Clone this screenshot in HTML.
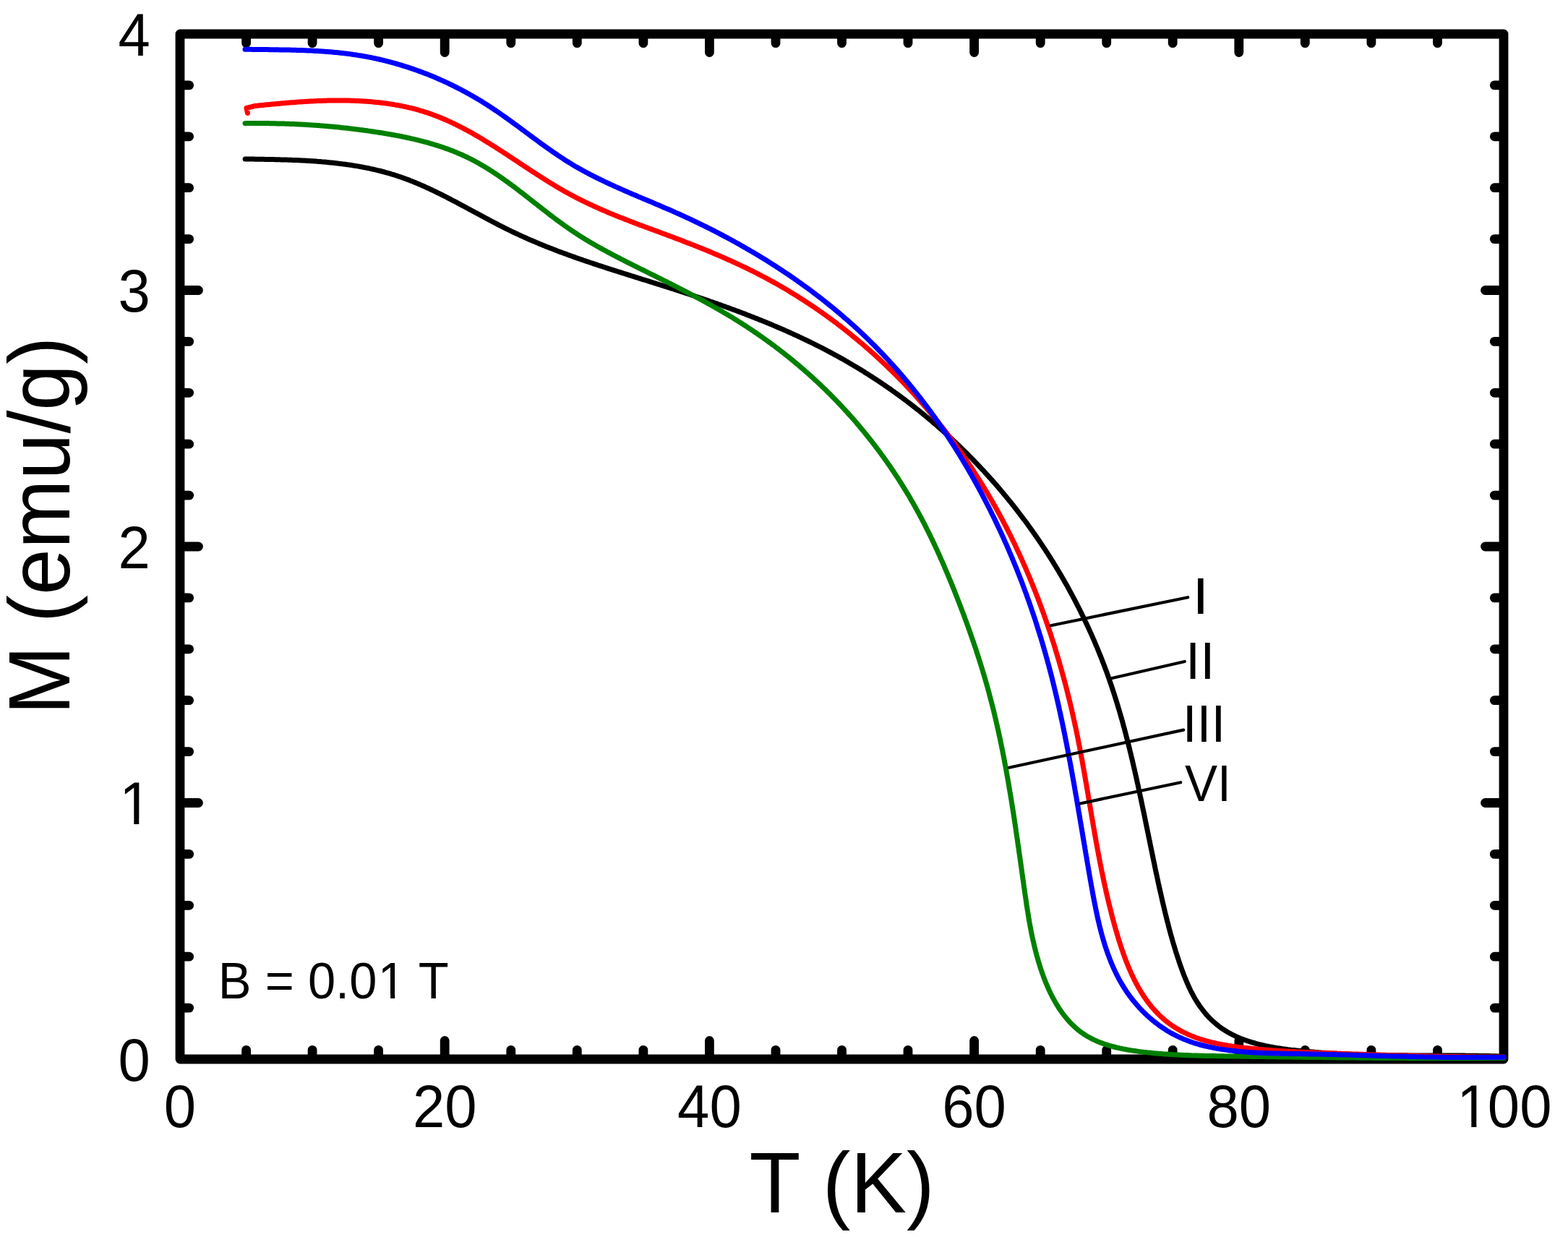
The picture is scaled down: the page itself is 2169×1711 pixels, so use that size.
<!DOCTYPE html>
<html><head><meta charset="utf-8"><title>M vs T</title>
<style>html,body{margin:0;padding:0;background:#fff;width:2169px;height:1711px;overflow:hidden}</style>
</head><body>
<svg width="2169" height="1711" viewBox="0 0 2169 1711" style="display:block">
<rect width="2169" height="1711" fill="#fff"/>
<path d="M340.6,1459.0V1452.3M340.6,53.0V59.7M432.1,1459.0V1452.3M432.1,53.0V59.7M523.6,1459.0V1452.3M523.6,53.0V59.7M615.2,1459.0V1439.5M615.2,53.0V72.5M706.8,1459.0V1452.3M706.8,53.0V59.7M798.3,1459.0V1452.3M798.3,53.0V59.7M889.9,1459.0V1452.3M889.9,53.0V59.7M981.4,1459.0V1439.5M981.4,53.0V72.5M1073.0,1459.0V1452.3M1073.0,53.0V59.7M1164.5,1459.0V1452.3M1164.5,53.0V59.7M1256.0,1459.0V1452.3M1256.0,53.0V59.7M1347.6,1459.0V1439.5M1347.6,53.0V72.5M1439.2,1459.0V1452.3M1439.2,53.0V59.7M1530.7,1459.0V1452.3M1530.7,53.0V59.7M1622.2,1459.0V1452.3M1622.2,53.0V59.7M1713.8,1459.0V1439.5M1713.8,53.0V72.5M1805.3,1459.0V1452.3M1805.3,53.0V59.7M1896.9,1459.0V1452.3M1896.9,53.0V59.7M1988.5,1459.0V1452.3M1988.5,53.0V59.7M255.0,1394.1H261.7M2074.0,1394.1H2067.3M255.0,1323.2H261.7M2074.0,1323.2H2067.3M255.0,1252.3H261.7M2074.0,1252.3H2067.3M255.0,1181.4H261.7M2074.0,1181.4H2067.3M255.0,1110.5H274.5M2074.0,1110.5H2054.5M255.0,1039.6H261.7M2074.0,1039.6H2067.3M255.0,968.7H261.7M2074.0,968.7H2067.3M255.0,897.8H261.7M2074.0,897.8H2067.3M255.0,826.9H261.7M2074.0,826.9H2067.3M255.0,756.0H274.5M2074.0,756.0H2054.5M255.0,685.1H261.7M2074.0,685.1H2067.3M255.0,614.2H261.7M2074.0,614.2H2067.3M255.0,543.3H261.7M2074.0,543.3H2067.3M255.0,472.4H261.7M2074.0,472.4H2067.3M255.0,401.5H274.5M2074.0,401.5H2054.5M255.0,330.6H261.7M2074.0,330.6H2067.3M255.0,259.7H261.7M2074.0,259.7H2067.3M255.0,188.8H261.7M2074.0,188.8H2067.3M255.0,117.9H261.7M2074.0,117.9H2067.3" stroke="#000" stroke-width="12.8" stroke-linecap="round" fill="none"/>
<rect x="249.0" y="47.0" width="1831.0" height="1418.0" fill="none" stroke="#000" stroke-width="12.8" stroke-linejoin="round"/>
<path d="M339.1,220.0 L341.0,220.0 L343.0,220.0 L345.0,220.0 L346.9,220.1 L348.9,220.1 L350.9,220.1 L352.9,220.2 L354.8,220.2 L356.8,220.2 L358.8,220.2 L360.8,220.3 L362.8,220.3 L364.8,220.3 L366.8,220.4 L368.8,220.4 L370.7,220.4 L372.7,220.5 L374.7,220.5 L376.7,220.6 L378.7,220.6 L380.7,220.7 L382.7,220.7 L384.7,220.7 L386.8,220.8 L388.8,220.9 L390.8,220.9 L392.8,221.0 L394.8,221.0 L396.8,221.1 L398.8,221.2 L400.8,221.2 L402.8,221.3 L404.8,221.4 L406.8,221.5 L408.9,221.5 L410.9,221.6 L412.9,221.7 L414.9,221.8 L416.9,221.9 L418.9,222.0 L420.9,222.1 L422.9,222.2 L425.0,222.3 L427.0,222.5 L429.0,222.6 L431.0,222.7 L433.0,222.8 L435.0,223.0 L437.0,223.1 L439.0,223.3 L441.1,223.4 L443.1,223.6 L445.1,223.8 L447.1,223.9 L449.1,224.1 L451.1,224.3 L453.1,224.5 L455.1,224.7 L457.1,224.9 L459.1,225.1 L461.1,225.3 L463.1,225.5 L465.1,225.7 L467.1,225.9 L469.1,226.2 L471.1,226.4 L473.1,226.7 L475.1,226.9 L477.1,227.2 L479.1,227.5 L481.1,227.8 L483.0,228.0 L485.0,228.3 L487.0,228.6 L489.0,229.0 L491.0,229.3 L492.9,229.6 L494.9,229.9 L496.9,230.3 L498.9,230.6 L500.8,231.0 L502.8,231.4 L504.7,231.8 L506.7,232.1 L508.7,232.5 L510.6,232.9 L512.6,233.4 L514.5,233.8 L516.5,234.2 L518.4,234.7 L520.3,235.1 L522.3,235.6 L524.2,236.0 L526.1,236.5 L528.1,237.0 L530.0,237.5 L531.9,238.0 L533.8,238.6 L535.7,239.1 L537.6,239.6 L539.6,240.2 L541.5,240.8 L543.4,241.3 L545.2,241.9 L547.1,242.5 L549.0,243.1 L550.9,243.8 L552.8,244.4 L554.7,245.0 L556.5,245.7 L558.4,246.4 L560.3,247.0 L562.1,247.7 L564.0,248.4 L565.8,249.1 L567.7,249.9 L569.5,250.6 L571.4,251.3 L573.2,252.1 L575.1,252.8 L576.9,253.6 L578.7,254.4 L580.6,255.1 L582.4,255.9 L584.2,256.7 L586.0,257.5 L587.8,258.3 L589.7,259.2 L591.5,260.0 L593.3,260.8 L595.1,261.7 L596.9,262.5 L598.7,263.4 L600.5,264.2 L602.3,265.1 L604.1,266.0 L605.9,266.9 L607.7,267.7 L609.5,268.6 L611.3,269.5 L613.1,270.4 L614.9,271.3 L616.6,272.2 L618.4,273.1 L620.2,274.1 L622.0,275.0 L623.8,275.9 L625.5,276.8 L627.3,277.8 L629.1,278.7 L630.9,279.6 L632.6,280.6 L634.4,281.5 L636.2,282.5 L638.0,283.4 L639.7,284.4 L641.5,285.3 L643.3,286.3 L645.1,287.2 L646.8,288.2 L648.6,289.1 L650.4,290.1 L652.1,291.0 L653.9,292.0 L655.7,292.9 L657.4,293.9 L659.2,294.8 L661.0,295.8 L662.8,296.8 L664.5,297.7 L666.3,298.7 L668.1,299.6 L669.8,300.6 L671.6,301.5 L673.4,302.5 L675.2,303.4 L676.9,304.3 L678.7,305.3 L680.5,306.2 L682.3,307.2 L684.1,308.1 L685.8,309.0 L687.6,309.9 L689.4,310.9 L691.2,311.8 L693.0,312.7 L694.8,313.6 L696.6,314.5 L698.3,315.4 L700.1,316.3 L701.9,317.2 L703.7,318.1 L705.5,318.9 L707.3,319.8 L709.1,320.7 L710.9,321.5 L712.7,322.4 L714.6,323.2 L716.4,324.1 L718.2,324.9 L720.0,325.8 L721.8,326.6 L723.6,327.4 L725.4,328.2 L727.3,329.0 L729.1,329.9 L730.9,330.7 L732.7,331.5 L734.6,332.2 L736.4,333.0 L738.2,333.8 L740.1,334.6 L741.9,335.4 L743.7,336.1 L745.6,336.9 L747.4,337.7 L749.3,338.4 L751.1,339.2 L753.0,339.9 L754.8,340.7 L756.6,341.4 L758.5,342.1 L760.4,342.9 L762.2,343.6 L764.1,344.3 L765.9,345.0 L767.8,345.7 L769.6,346.5 L771.5,347.2 L773.3,347.9 L775.2,348.6 L777.1,349.3 L778.9,350.0 L780.8,350.6 L782.7,351.3 L784.5,352.0 L786.4,352.7 L788.3,353.4 L790.1,354.0 L792.0,354.7 L793.9,355.4 L795.8,356.1 L797.6,356.7 L799.5,357.4 L801.4,358.0 L803.3,358.7 L805.2,359.3 L807.0,360.0 L808.9,360.6 L810.8,361.3 L812.7,361.9 L814.6,362.5 L816.5,363.2 L818.3,363.8 L820.2,364.4 L822.1,365.1 L824.0,365.7 L825.9,366.3 L827.8,367.0 L829.7,367.6 L831.6,368.2 L833.4,368.8 L835.3,369.4 L837.2,370.0 L839.1,370.7 L841.0,371.3 L842.9,371.9 L844.8,372.5 L846.7,373.1 L848.6,373.7 L850.5,374.3 L852.4,374.9 L854.3,375.5 L856.2,376.1 L858.1,376.7 L860.0,377.3 L861.9,377.9 L863.8,378.5 L865.7,379.1 L867.6,379.7 L869.5,380.3 L871.4,380.9 L873.3,381.5 L875.2,382.1 L877.1,382.7 L879.0,383.3 L880.9,383.9 L882.7,384.5 L884.6,385.1 L886.5,385.7 L888.4,386.3 L890.3,386.9 L892.2,387.4 L894.1,388.0 L896.0,388.6 L897.9,389.2 L899.8,389.8 L901.7,390.4 L903.6,391.0 L905.5,391.6 L907.4,392.2 L909.3,392.8 L911.2,393.4 L913.1,394.0 L915.0,394.6 L916.9,395.2 L918.8,395.8 L920.7,396.4 L922.6,397.0 L924.5,397.6 L926.4,398.2 L928.3,398.8 L930.2,399.4 L932.1,400.0 L934.0,400.7 L935.8,401.3 L937.7,401.9 L939.6,402.5 L941.5,403.1 L943.4,403.7 L945.3,404.3 L947.2,405.0 L949.1,405.6 L951.0,406.2 L952.8,406.8 L954.7,407.5 L956.6,408.1 L958.5,408.7 L960.4,409.3 L962.3,410.0 L964.2,410.6 L966.0,411.2 L967.9,411.9 L969.8,412.5 L971.7,413.1 L973.6,413.8 L975.4,414.4 L977.3,415.1 L979.2,415.7 L981.1,416.4 L982.9,417.0 L984.8,417.7 L986.7,418.3 L988.5,419.0 L990.4,419.6 L992.3,420.3 L994.2,421.0 L996.0,421.6 L997.9,422.3 L999.8,423.0 L1001.6,423.6 L1003.5,424.3 L1005.4,425.0 L1007.2,425.6 L1009.1,426.3 L1010.9,427.0 L1012.8,427.7 L1014.7,428.4 L1016.5,429.1 L1018.4,429.8 L1020.2,430.4 L1022.1,431.1 L1023.9,431.8 L1025.8,432.5 L1027.6,433.2 L1029.5,433.9 L1031.3,434.6 L1033.2,435.4 L1035.0,436.1 L1036.9,436.8 L1038.7,437.5 L1040.5,438.2 L1042.4,438.9 L1044.2,439.7 L1046.1,440.4 L1047.9,441.1 L1049.7,441.9 L1051.6,442.6 L1053.4,443.3 L1055.2,444.1 L1057.0,444.8 L1058.9,445.6 L1060.7,446.3 L1062.5,447.1 L1064.3,447.8 L1066.2,448.6 L1068.0,449.3 L1069.8,450.1 L1071.6,450.9 L1073.4,451.6 L1075.3,452.4 L1077.1,453.2 L1078.9,454.0 L1080.7,454.8 L1082.5,455.5 L1084.3,456.3 L1086.1,457.1 L1087.9,457.9 L1089.7,458.7 L1091.5,459.5 L1093.3,460.3 L1095.1,461.1 L1096.9,461.9 L1098.7,462.8 L1100.5,463.6 L1102.3,464.4 L1104.1,465.2 L1105.8,466.1 L1107.6,466.9 L1109.4,467.7 L1111.2,468.6 L1113.0,469.4 L1114.7,470.3 L1116.5,471.1 L1118.3,472.0 L1120.1,472.8 L1121.8,473.7 L1123.6,474.6 L1125.4,475.4 L1127.1,476.3 L1128.9,477.2 L1130.6,478.1 L1132.4,478.9 L1134.1,479.8 L1135.9,480.7 L1137.7,481.6 L1139.4,482.5 L1141.1,483.4 L1142.9,484.3 L1144.6,485.3 L1146.4,486.2 L1148.1,487.1 L1149.9,488.0 L1151.6,489.0 L1153.3,489.9 L1155.0,490.8 L1156.8,491.8 L1158.5,492.7 L1160.2,493.7 L1161.9,494.6 L1163.7,495.6 L1165.4,496.5 L1167.1,497.5 L1168.8,498.5 L1170.5,499.5 L1172.2,500.4 L1173.9,501.4 L1175.6,502.4 L1177.3,503.4 L1179.0,504.4 L1180.7,505.4 L1182.4,506.4 L1184.1,507.4 L1185.8,508.5 L1187.5,509.5 L1189.2,510.5 L1190.8,511.5 L1192.5,512.6 L1194.2,513.6 L1195.9,514.7 L1197.5,515.7 L1199.2,516.8 L1200.9,517.8 L1202.5,518.9 L1204.2,519.9 L1205.9,521.0 L1207.5,522.1 L1209.2,523.2 L1210.8,524.2 L1212.5,525.3 L1214.1,526.4 L1215.8,527.5 L1217.4,528.6 L1219.0,529.7 L1220.7,530.8 L1222.3,531.9 L1223.9,533.0 L1225.6,534.2 L1227.2,535.3 L1228.8,536.4 L1230.4,537.5 L1232.1,538.7 L1233.7,539.8 L1235.3,541.0 L1236.9,542.1 L1238.5,543.3 L1240.1,544.4 L1241.7,545.6 L1243.3,546.7 L1244.9,547.9 L1246.5,549.1 L1248.1,550.3 L1249.7,551.4 L1251.2,552.6 L1252.8,553.8 L1254.4,555.0 L1256.0,556.2 L1257.6,557.4 L1259.1,558.6 L1260.7,559.8 L1262.3,561.0 L1263.8,562.2 L1265.4,563.5 L1266.9,564.7 L1268.5,565.9 L1270.0,567.1 L1271.6,568.4 L1273.1,569.6 L1274.7,570.9 L1276.2,572.1 L1277.7,573.4 L1279.3,574.6 L1280.8,575.9 L1282.3,577.1 L1283.8,578.4 L1285.4,579.7 L1286.9,580.9 L1288.4,582.2 L1289.9,583.5 L1291.4,584.8 L1292.9,586.1 L1294.4,587.4 L1295.9,588.7 L1297.4,590.0 L1298.9,591.3 L1300.4,592.6 L1301.9,593.9 L1303.4,595.2 L1304.8,596.5 L1306.3,597.8 L1307.8,599.2 L1309.3,600.5 L1310.7,601.8 L1312.2,603.2 L1313.7,604.5 L1315.1,605.9 L1316.6,607.2 L1318.0,608.6 L1319.5,609.9 L1320.9,611.3 L1322.4,612.6 L1323.8,614.0 L1325.2,615.4 L1326.7,616.7 L1328.1,618.1 L1329.5,619.5 L1330.9,620.9 L1332.3,622.3 L1333.8,623.6 L1335.2,625.0 L1336.6,626.4 L1338.0,627.8 L1339.4,629.2 L1340.8,630.6 L1342.2,632.1 L1343.6,633.5 L1345.0,634.9 L1346.3,636.3 L1347.7,637.7 L1349.1,639.2 L1350.5,640.6 L1351.9,642.0 L1353.2,643.5 L1354.6,644.9 L1355.9,646.4 L1357.3,647.8 L1358.7,649.3 L1360.0,650.7 L1361.4,652.2 L1362.7,653.6 L1364.0,655.1 L1365.4,656.6 L1366.7,658.0 L1368.0,659.5 L1369.4,661.0 L1370.7,662.5 L1372.0,663.9 L1373.3,665.4 L1374.6,666.9 L1375.9,668.4 L1377.3,669.9 L1378.6,671.4 L1379.9,672.9 L1381.1,674.4 L1382.4,675.9 L1383.7,677.4 L1385.0,679.0 L1386.3,680.5 L1387.6,682.0 L1388.8,683.5 L1390.1,685.0 L1391.4,686.6 L1392.6,688.1 L1393.9,689.7 L1395.2,691.2 L1396.4,692.7 L1397.7,694.3 L1398.9,695.8 L1400.1,697.4 L1401.4,698.9 L1402.6,700.5 L1403.8,702.1 L1405.1,703.6 L1406.3,705.2 L1407.5,706.8 L1408.7,708.3 L1409.9,709.9 L1411.1,711.5 L1412.3,713.1 L1413.5,714.7 L1414.7,716.2 L1415.9,717.8 L1417.1,719.4 L1418.3,721.0 L1419.5,722.6 L1420.7,724.2 L1421.8,725.8 L1423.0,727.4 L1424.2,729.1 L1425.3,730.7 L1426.5,732.3 L1427.7,733.9 L1428.8,735.5 L1430.0,737.2 L1431.1,738.8 L1432.2,740.4 L1433.4,742.1 L1434.5,743.7 L1435.6,745.3 L1436.8,747.0 L1437.9,748.6 L1439.0,750.3 L1440.1,751.9 L1441.2,753.6 L1442.3,755.2 L1443.4,756.9 L1444.5,758.5 L1445.6,760.2 L1446.7,761.9 L1447.8,763.5 L1448.9,765.2 L1450.0,766.9 L1451.0,768.6 L1452.1,770.2 L1453.2,771.9 L1454.2,773.6 L1455.3,775.3 L1456.3,777.0 L1457.4,778.7 L1458.4,780.4 L1459.5,782.1 L1460.5,783.8 L1461.5,785.5 L1462.6,787.2 L1463.6,788.9 L1464.6,790.6 L1465.6,792.3 L1466.6,794.0 L1467.7,795.7 L1468.7,797.5 L1469.7,799.2 L1470.7,800.9 L1471.7,802.6 L1472.6,804.4 L1473.6,806.1 L1474.6,807.8 L1475.6,809.6 L1476.6,811.3 L1477.5,813.1 L1478.5,814.8 L1479.5,816.6 L1480.4,818.3 L1481.4,820.1 L1482.3,821.8 L1483.3,823.6 L1484.2,825.3 L1485.1,827.1 L1486.1,828.8 L1487.0,830.6 L1487.9,832.4 L1488.8,834.1 L1489.7,835.9 L1490.6,837.7 L1491.6,839.5 L1492.5,841.3 L1493.4,843.0 L1494.2,844.8 L1495.1,846.6 L1496.0,848.4 L1496.9,850.2 L1497.8,852.0 L1498.6,853.8 L1499.5,855.6 L1500.4,857.4 L1501.2,859.2 L1502.1,861.0 L1502.9,862.8 L1503.8,864.6 L1504.6,866.4 L1505.5,868.2 L1506.3,870.0 L1507.1,871.8 L1507.9,873.7 L1508.8,875.5 L1509.6,877.3 L1510.4,879.1 L1511.2,880.9 L1512.0,882.8 L1512.8,884.6 L1513.6,886.4 L1514.4,888.3 L1515.2,890.1 L1515.9,892.0 L1516.7,893.8 L1517.5,895.6 L1518.3,897.5 L1519.0,899.3 L1519.8,901.2 L1520.5,903.0 L1521.3,904.9 L1522.0,906.7 L1522.8,908.6 L1523.5,910.4 L1524.2,912.3 L1524.9,914.2 L1525.7,916.0 L1526.4,917.9 L1527.1,919.8 L1527.8,921.6 L1528.5,923.5 L1529.2,925.4 L1529.9,927.3 L1530.6,929.1 L1531.3,931.0 L1532.0,932.9 L1532.6,934.8 L1533.3,936.7 L1534.0,938.5 L1534.6,940.4 L1535.3,942.3 L1535.9,944.2 L1536.6,946.1 L1537.2,948.0 L1537.9,949.9 L1538.5,951.8 L1539.1,953.7 L1539.8,955.6 L1540.4,957.5 L1541.0,959.4 L1541.6,961.3 L1542.2,963.2 L1542.8,965.1 L1543.4,967.0 L1544.0,968.9 L1544.6,970.8 L1545.2,972.8 L1545.8,974.7 L1546.4,976.6 L1546.9,978.5 L1547.5,980.4 L1548.1,982.3 L1548.7,984.3 L1549.2,986.2 L1549.8,988.1 L1550.3,990.0 L1550.9,992.0 L1551.4,993.9 L1552.0,995.8 L1552.5,997.8 L1553.1,999.7 L1553.6,1001.6 L1554.1,1003.6 L1554.6,1005.5 L1555.2,1007.4 L1555.7,1009.4 L1556.2,1011.3 L1556.7,1013.2 L1557.2,1015.2 L1557.7,1017.1 L1558.2,1019.1 L1558.7,1021.0 L1559.2,1023.0 L1559.7,1024.9 L1560.2,1026.8 L1560.7,1028.8 L1561.2,1030.7 L1561.7,1032.7 L1562.2,1034.6 L1562.7,1036.6 L1563.1,1038.5 L1563.6,1040.5 L1564.1,1042.4 L1564.6,1044.4 L1565.0,1046.3 L1565.5,1048.3 L1566.0,1050.2 L1566.4,1052.2 L1566.9,1054.1 L1567.3,1056.1 L1567.8,1058.1 L1568.2,1060.0 L1568.7,1062.0 L1569.1,1063.9 L1569.6,1065.9 L1570.0,1067.8 L1570.5,1069.8 L1570.9,1071.8 L1571.4,1073.7 L1571.8,1075.7 L1572.2,1077.6 L1572.7,1079.6 L1573.1,1081.5 L1573.5,1083.5 L1574.0,1085.5 L1574.4,1087.4 L1574.8,1089.4 L1575.2,1091.3 L1575.7,1093.3 L1576.1,1095.3 L1576.5,1097.2 L1576.9,1099.2 L1577.3,1101.1 L1577.7,1103.1 L1578.2,1105.1 L1578.6,1107.0 L1579.0,1109.0 L1579.4,1110.9 L1579.8,1112.9 L1580.2,1114.9 L1580.6,1116.8 L1581.0,1118.8 L1581.4,1120.7 L1581.9,1122.7 L1582.3,1124.7 L1582.7,1126.6 L1583.1,1128.6 L1583.5,1130.5 L1583.9,1132.5 L1584.3,1134.5 L1584.7,1136.4 L1585.1,1138.4 L1585.5,1140.3 L1585.9,1142.3 L1586.3,1144.2 L1586.7,1146.2 L1587.1,1148.1 L1587.5,1150.1 L1587.9,1152.0 L1588.3,1154.0 L1588.7,1156.0 L1589.1,1157.9 L1589.5,1159.9 L1589.9,1161.8 L1590.3,1163.8 L1590.7,1165.7 L1591.1,1167.7 L1591.5,1169.6 L1591.9,1171.5 L1592.3,1173.5 L1592.7,1175.4 L1593.1,1177.4 L1593.5,1179.3 L1593.9,1181.3 L1594.3,1183.2 L1594.7,1185.2 L1595.1,1187.1 L1595.5,1189.0 L1595.9,1191.0 L1596.3,1192.9 L1596.7,1194.8 L1597.1,1196.8 L1597.5,1198.7 L1597.9,1200.6 L1598.3,1202.6 L1598.7,1204.5 L1599.1,1206.4 L1599.5,1208.4 L1600.0,1210.3 L1600.4,1212.2 L1600.8,1214.1 L1601.2,1216.1 L1601.6,1218.0 L1602.0,1219.9 L1602.4,1221.8 L1602.9,1223.7 L1603.3,1225.7 L1603.7,1227.6 L1604.1,1229.5 L1604.6,1231.4 L1605.0,1233.3 L1605.4,1235.2 L1605.9,1237.1 L1606.3,1239.0 L1606.7,1240.9 L1607.2,1242.9 L1607.6,1244.8 L1608.0,1246.7 L1608.5,1248.6 L1608.9,1250.5 L1609.4,1252.3 L1609.8,1254.2 L1610.3,1256.1 L1610.7,1258.0 L1611.2,1259.9 L1611.6,1261.8 L1612.1,1263.7 L1612.5,1265.6 L1613.0,1267.5 L1613.5,1269.3 L1613.9,1271.2 L1614.4,1273.1 L1614.9,1275.0 L1615.4,1276.8 L1615.9,1278.7 L1616.3,1280.6 L1616.8,1282.5 L1617.3,1284.3 L1617.8,1286.2 L1618.3,1288.0 L1618.8,1289.9 L1619.3,1291.8 L1619.8,1293.6 L1620.4,1295.5 L1620.9,1297.3 L1621.4,1299.2 L1621.9,1301.0 L1622.5,1302.9 L1623.0,1304.7 L1623.6,1306.6 L1624.1,1308.4 L1624.7,1310.3 L1625.2,1312.1 L1625.8,1313.9 L1626.3,1315.8 L1626.9,1317.6 L1627.5,1319.4 L1628.1,1321.2 L1628.7,1323.1 L1629.3,1324.9 L1629.9,1326.7 L1630.5,1328.5 L1631.1,1330.4 L1631.7,1332.2 L1632.3,1334.0 L1633.0,1335.8 L1633.6,1337.6 L1634.3,1339.4 L1634.9,1341.2 L1635.6,1343.0 L1636.2,1344.8 L1636.9,1346.6 L1637.6,1348.4 L1638.3,1350.2 L1639.0,1352.0 L1639.7,1353.8 L1640.5,1355.5 L1641.2,1357.3 L1641.9,1359.1 L1642.7,1360.8 L1643.5,1362.6 L1644.3,1364.3 L1645.1,1366.1 L1645.9,1367.8 L1646.7,1369.5 L1647.6,1371.3 L1648.5,1373.0 L1649.4,1374.7 L1650.3,1376.4 L1651.2,1378.1 L1652.1,1379.7 L1653.1,1381.4 L1654.1,1383.1 L1655.1,1384.7 L1656.1,1386.3 L1657.2,1388.0 L1658.2,1389.6 L1659.3,1391.2 L1660.5,1392.8 L1661.6,1394.3 L1662.8,1395.9 L1664.0,1397.4 L1665.2,1399.0 L1666.4,1400.5 L1667.7,1402.0 L1668.9,1403.5 L1670.2,1404.9 L1671.5,1406.3 L1672.9,1407.8 L1674.2,1409.1 L1675.6,1410.5 L1677.0,1411.8 L1678.5,1413.2 L1679.9,1414.4 L1681.4,1415.7 L1682.8,1416.9 L1684.3,1418.1 L1685.8,1419.3 L1687.4,1420.5 L1688.9,1421.6 L1690.5,1422.7 L1692.1,1423.7 L1693.7,1424.8 L1695.3,1425.8 L1696.9,1426.8 L1698.6,1427.8 L1700.2,1428.7 L1701.9,1429.6 L1703.6,1430.5 L1705.3,1431.4 L1707.0,1432.2 L1708.8,1433.1 L1710.5,1433.9 L1712.3,1434.7 L1714.0,1435.4 L1715.8,1436.2 L1717.6,1436.9 L1719.4,1437.6 L1721.3,1438.3 L1723.1,1438.9 L1724.9,1439.6 L1726.8,1440.2 L1728.7,1440.8 L1730.5,1441.4 L1732.4,1442.0 L1734.3,1442.5 L1736.2,1443.0 L1738.1,1443.6 L1740.0,1444.1 L1742.0,1444.6 L1743.9,1445.0 L1745.9,1445.5 L1747.8,1445.9 L1749.8,1446.4 L1751.7,1446.8 L1753.7,1447.2 L1755.7,1447.6 L1757.7,1448.0 L1759.6,1448.3 L1761.6,1448.7 L1763.6,1449.0 L1765.6,1449.4 L1767.6,1449.7 L1769.7,1450.0 L1771.7,1450.3 L1773.7,1450.6 L1775.7,1450.9 L1777.7,1451.1 L1779.7,1451.4 L1781.8,1451.7 L1783.8,1451.9 L1785.8,1452.2 L1787.9,1452.4 L1789.9,1452.6 L1791.9,1452.8 L1793.9,1453.1 L1796.0,1453.3 L1798.0,1453.5 L1800.0,1453.7 L1802.1,1453.9 L1804.1,1454.1 L1806.1,1454.3 L1808.1,1454.4 L1810.2,1454.6 L1812.2,1454.8 L1814.2,1455.0 L1816.2,1455.1 L1818.2,1455.3 L1820.3,1455.5 L1822.3,1455.6 L1824.3,1455.8 L1826.3,1455.9 L1828.3,1456.1 L1830.3,1456.2 L1832.4,1456.3 L1834.4,1456.5 L1836.4,1456.6 L1838.4,1456.7 L1840.4,1456.9 L1842.4,1457.0 L1844.4,1457.1 L1846.4,1457.2 L1848.4,1457.3 L1850.4,1457.4 L1852.4,1457.5 L1854.4,1457.6 L1856.4,1457.7 L1858.4,1457.8 L1860.4,1457.9 L1862.4,1458.0 L1864.4,1458.1 L1866.4,1458.2 L1868.4,1458.3 L1870.4,1458.4 L1872.4,1458.4 L1874.4,1458.5 L1876.4,1458.6 L1878.4,1458.7 L1880.4,1458.7 L1882.4,1458.8 L1884.4,1458.8 L1886.4,1458.9 L1888.4,1459.0 L1890.4,1459.0 L1892.4,1459.1 L1894.4,1459.1 L1896.4,1459.2 L1898.3,1459.2 L1900.3,1459.3 L1902.3,1459.3 L1904.3,1459.3 L1906.3,1459.4 L1908.3,1459.4 L1910.3,1459.5 L1912.3,1459.5 L1914.3,1459.5 L1916.3,1459.6 L1918.2,1459.6 L1920.2,1459.6 L1922.2,1459.6 L1924.2,1459.7 L1926.2,1459.7 L1928.2,1459.7 L1930.2,1459.7 L1932.2,1459.7 L1934.1,1459.8 L1936.1,1459.8 L1938.1,1459.8 L1940.1,1459.8 L1942.1,1459.8 L1944.1,1459.8 L1946.1,1459.8 L1948.0,1459.9 L1950.0,1459.9 L1952.0,1459.9 L1954.0,1459.9 L1956.0,1459.9 L1958.0,1459.9 L1960.0,1459.9 L1962.0,1459.9 L1963.9,1459.9 L1965.9,1459.9 L1967.9,1459.9 L1969.9,1459.9 L1971.9,1459.9 L1973.9,1460.0 L1975.9,1460.0 L1977.9,1460.0 L1979.9,1460.0 L1981.8,1460.0 L1983.8,1460.0 L1985.8,1460.0 L1987.8,1460.0 L1989.8,1460.0 L1991.8,1460.0 L1993.8,1460.0 L1995.8,1460.0 L1997.8,1460.0 L1999.8,1460.0 L2001.8,1460.0 L2003.8,1460.0 L2005.7,1460.0 L2007.7,1460.0 L2009.7,1460.1 L2011.7,1460.1 L2013.7,1460.1 L2015.7,1460.1 L2017.7,1460.1 L2019.7,1460.1 L2021.7,1460.1 L2023.7,1460.1 L2025.7,1460.1 L2027.7,1460.2 L2029.7,1460.2 L2031.7,1460.2 L2033.7,1460.2 L2035.7,1460.2 L2037.7,1460.3 L2039.8,1460.3 L2041.8,1460.3 L2043.8,1460.3 L2045.8,1460.4 L2047.8,1460.4 L2049.8,1460.4 L2051.8,1460.5 L2053.8,1460.5 L2055.8,1460.5 L2057.8,1460.6 L2059.9,1460.6 L2061.9,1460.7 L2063.9,1460.7 L2065.9,1460.7 L2067.9,1460.8 L2069.9,1460.8 L2072.0,1460.9 L2074.0,1460.9 L2076.0,1461.0 L2078.0,1461.1 L2080.1,1461.1" stroke="#000000" stroke-width="7" fill="none" stroke-linecap="round" stroke-linejoin="round"/>
<path d="M339.0,170.7 L341.0,170.6 L343.0,170.6 L345.0,170.6 L347.0,170.6 L349.1,170.6 L351.1,170.6 L353.1,170.5 L355.1,170.5 L357.1,170.5 L359.1,170.5 L361.1,170.6 L363.1,170.6 L365.1,170.6 L367.1,170.6 L369.1,170.6 L371.1,170.6 L373.1,170.7 L375.1,170.7 L377.1,170.7 L379.1,170.8 L381.1,170.8 L383.1,170.9 L385.1,170.9 L387.1,170.9 L389.1,171.0 L391.1,171.1 L393.1,171.1 L395.1,171.2 L397.1,171.3 L399.0,171.3 L401.0,171.4 L403.0,171.5 L405.0,171.6 L407.0,171.6 L409.0,171.7 L411.0,171.8 L412.9,171.9 L414.9,172.0 L416.9,172.1 L418.9,172.2 L420.9,172.3 L422.8,172.4 L424.8,172.6 L426.8,172.7 L428.8,172.8 L430.8,172.9 L432.7,173.1 L434.7,173.2 L436.7,173.3 L438.7,173.5 L440.7,173.6 L442.6,173.8 L444.6,173.9 L446.6,174.1 L448.6,174.2 L450.5,174.4 L452.5,174.6 L454.5,174.7 L456.5,174.9 L458.4,175.1 L460.4,175.3 L462.4,175.5 L464.4,175.7 L466.3,175.8 L468.3,176.0 L470.3,176.2 L472.3,176.5 L474.2,176.7 L476.2,176.9 L478.2,177.1 L480.2,177.3 L482.2,177.5 L484.1,177.8 L486.1,178.0 L488.1,178.2 L490.1,178.5 L492.1,178.7 L494.0,179.0 L496.0,179.2 L498.0,179.5 L500.0,179.7 L502.0,180.0 L503.9,180.3 L505.9,180.5 L507.9,180.8 L509.9,181.1 L511.9,181.4 L513.9,181.7 L515.8,182.0 L517.8,182.3 L519.8,182.6 L521.8,182.9 L523.8,183.2 L525.8,183.5 L527.8,183.8 L529.8,184.1 L531.8,184.5 L533.7,184.8 L535.7,185.1 L537.7,185.5 L539.7,185.8 L541.7,186.2 L543.7,186.5 L545.7,186.9 L547.7,187.3 L549.7,187.6 L551.6,188.0 L553.6,188.4 L555.6,188.8 L557.6,189.2 L559.6,189.6 L561.6,190.0 L563.5,190.5 L565.5,190.9 L567.5,191.3 L569.5,191.8 L571.4,192.2 L573.4,192.7 L575.4,193.1 L577.3,193.6 L579.3,194.1 L581.2,194.6 L583.2,195.1 L585.1,195.6 L587.1,196.1 L589.0,196.6 L591.0,197.2 L592.9,197.7 L594.8,198.3 L596.8,198.8 L598.7,199.4 L600.6,200.0 L602.5,200.6 L604.5,201.2 L606.4,201.8 L608.3,202.4 L610.2,203.0 L612.1,203.6 L614.0,204.3 L615.8,205.0 L617.7,205.6 L619.6,206.3 L621.5,207.0 L623.3,207.7 L625.2,208.4 L627.0,209.1 L628.9,209.9 L630.7,210.6 L632.6,211.4 L634.4,212.2 L636.2,212.9 L638.0,213.7 L639.8,214.5 L641.6,215.4 L643.4,216.2 L645.2,217.0 L647.0,217.9 L648.8,218.8 L650.6,219.7 L652.3,220.5 L654.1,221.5 L655.8,222.4 L657.6,223.3 L659.3,224.3 L661.0,225.2 L662.8,226.2 L664.5,227.2 L666.2,228.2 L667.9,229.2 L669.6,230.2 L671.3,231.2 L673.0,232.2 L674.6,233.3 L676.3,234.3 L678.0,235.4 L679.7,236.4 L681.3,237.5 L683.0,238.6 L684.6,239.7 L686.3,240.8 L687.9,241.9 L689.6,243.0 L691.2,244.2 L692.8,245.3 L694.5,246.4 L696.1,247.6 L697.7,248.7 L699.3,249.9 L700.9,251.0 L702.6,252.2 L704.2,253.4 L705.8,254.6 L707.4,255.8 L709.0,256.9 L710.6,258.1 L712.2,259.3 L713.8,260.5 L715.4,261.8 L717.0,263.0 L718.5,264.2 L720.1,265.4 L721.7,266.6 L723.3,267.8 L724.9,269.1 L726.5,270.3 L728.0,271.5 L729.6,272.8 L731.2,274.0 L732.8,275.2 L734.4,276.5 L735.9,277.7 L737.5,278.9 L739.1,280.2 L740.7,281.4 L742.2,282.6 L743.8,283.9 L745.4,285.1 L747.0,286.3 L748.6,287.6 L750.1,288.8 L751.7,290.0 L753.3,291.3 L754.9,292.5 L756.5,293.7 L758.1,294.9 L759.7,296.2 L761.2,297.4 L762.8,298.6 L764.4,299.8 L766.0,301.0 L767.6,302.2 L769.2,303.4 L770.8,304.6 L772.4,305.8 L774.0,307.0 L775.7,308.2 L777.3,309.3 L778.9,310.5 L780.5,311.7 L782.1,312.8 L783.8,314.0 L785.4,315.1 L787.0,316.3 L788.7,317.4 L790.3,318.5 L792.0,319.6 L793.6,320.7 L795.3,321.8 L797.0,322.9 L798.6,324.0 L800.3,325.1 L802.0,326.2 L803.7,327.2 L805.3,328.3 L807.0,329.3 L808.7,330.4 L810.4,331.4 L812.1,332.4 L813.8,333.5 L815.5,334.5 L817.2,335.5 L818.9,336.5 L820.7,337.5 L822.4,338.5 L824.1,339.5 L825.8,340.5 L827.6,341.5 L829.3,342.4 L831.0,343.4 L832.8,344.4 L834.5,345.3 L836.3,346.3 L838.0,347.2 L839.8,348.2 L841.5,349.1 L843.3,350.0 L845.0,351.0 L846.8,351.9 L848.5,352.8 L850.3,353.8 L852.1,354.7 L853.8,355.6 L855.6,356.5 L857.4,357.4 L859.1,358.3 L860.9,359.2 L862.7,360.2 L864.5,361.1 L866.2,362.0 L868.0,362.9 L869.8,363.8 L871.6,364.6 L873.3,365.5 L875.1,366.4 L876.9,367.3 L878.7,368.2 L880.5,369.1 L882.3,370.0 L884.0,370.9 L885.8,371.8 L887.6,372.7 L889.4,373.5 L891.2,374.4 L893.0,375.3 L894.8,376.2 L896.5,377.1 L898.3,378.0 L900.1,378.9 L901.9,379.7 L903.7,380.6 L905.5,381.5 L907.3,382.4 L909.1,383.3 L910.8,384.2 L912.6,385.1 L914.4,386.0 L916.2,386.9 L918.0,387.8 L919.8,388.7 L921.5,389.5 L923.3,390.4 L925.1,391.3 L926.9,392.2 L928.7,393.1 L930.4,394.0 L932.2,394.9 L934.0,395.8 L935.8,396.8 L937.6,397.7 L939.3,398.6 L941.1,399.5 L942.9,400.4 L944.7,401.3 L946.4,402.2 L948.2,403.1 L950.0,404.1 L951.7,405.0 L953.5,405.9 L955.3,406.8 L957.0,407.8 L958.8,408.7 L960.6,409.6 L962.3,410.6 L964.1,411.5 L965.8,412.4 L967.6,413.4 L969.4,414.3 L971.1,415.3 L972.9,416.2 L974.6,417.2 L976.4,418.2 L978.1,419.1 L979.9,420.1 L981.6,421.0 L983.4,422.0 L985.1,423.0 L986.8,424.0 L988.6,425.0 L990.3,425.9 L992.0,426.9 L993.8,427.9 L995.5,428.9 L997.2,429.9 L999.0,430.9 L1000.7,431.9 L1002.4,432.9 L1004.1,434.0 L1005.8,435.0 L1007.5,436.0 L1009.3,437.0 L1011.0,438.1 L1012.7,439.1 L1014.4,440.1 L1016.1,441.2 L1017.8,442.2 L1019.5,443.3 L1021.2,444.4 L1022.9,445.4 L1024.5,446.5 L1026.2,447.6 L1027.9,448.6 L1029.6,449.7 L1031.3,450.8 L1033.0,451.9 L1034.6,453.0 L1036.3,454.1 L1038.0,455.2 L1039.6,456.3 L1041.3,457.4 L1042.9,458.6 L1044.6,459.7 L1046.3,460.8 L1047.9,462.0 L1049.6,463.1 L1051.2,464.2 L1052.8,465.4 L1054.5,466.5 L1056.1,467.7 L1057.7,468.9 L1059.4,470.0 L1061.0,471.2 L1062.6,472.4 L1064.2,473.5 L1065.9,474.7 L1067.5,475.9 L1069.1,477.1 L1070.7,478.3 L1072.3,479.5 L1073.9,480.7 L1075.5,481.9 L1077.1,483.1 L1078.7,484.4 L1080.2,485.6 L1081.8,486.8 L1083.4,488.0 L1085.0,489.3 L1086.6,490.5 L1088.1,491.8 L1089.7,493.0 L1091.3,494.3 L1092.8,495.5 L1094.4,496.8 L1095.9,498.0 L1097.5,499.3 L1099.0,500.6 L1100.5,501.9 L1102.1,503.1 L1103.6,504.4 L1105.1,505.7 L1106.7,507.0 L1108.2,508.3 L1109.7,509.6 L1111.2,510.9 L1112.7,512.2 L1114.2,513.6 L1115.7,514.9 L1117.2,516.2 L1118.7,517.5 L1120.2,518.9 L1121.7,520.2 L1123.2,521.5 L1124.7,522.9 L1126.1,524.2 L1127.6,525.6 L1129.1,526.9 L1130.5,528.3 L1132.0,529.7 L1133.4,531.0 L1134.9,532.4 L1136.3,533.8 L1137.8,535.2 L1139.2,536.6 L1140.7,537.9 L1142.1,539.3 L1143.5,540.7 L1144.9,542.1 L1146.3,543.5 L1147.8,544.9 L1149.2,546.4 L1150.6,547.8 L1152.0,549.2 L1153.4,550.6 L1154.8,552.0 L1156.1,553.5 L1157.5,554.9 L1158.9,556.3 L1160.3,557.8 L1161.7,559.2 L1163.0,560.7 L1164.4,562.1 L1165.7,563.6 L1167.1,565.0 L1168.4,566.5 L1169.8,568.0 L1171.1,569.4 L1172.5,570.9 L1173.8,572.4 L1175.1,573.9 L1176.4,575.4 L1177.8,576.9 L1179.1,578.3 L1180.4,579.8 L1181.7,581.3 L1183.0,582.8 L1184.3,584.3 L1185.6,585.9 L1186.9,587.4 L1188.2,588.9 L1189.4,590.4 L1190.7,591.9 L1192.0,593.4 L1193.2,595.0 L1194.5,596.5 L1195.8,598.0 L1197.0,599.6 L1198.3,601.1 L1199.5,602.7 L1200.7,604.2 L1202.0,605.8 L1203.2,607.3 L1204.4,608.9 L1205.7,610.4 L1206.9,612.0 L1208.1,613.6 L1209.3,615.1 L1210.5,616.7 L1211.7,618.3 L1212.9,619.9 L1214.1,621.5 L1215.3,623.0 L1216.5,624.6 L1217.6,626.2 L1218.8,627.8 L1220.0,629.4 L1221.1,631.0 L1222.3,632.6 L1223.4,634.2 L1224.6,635.8 L1225.7,637.4 L1226.9,639.1 L1228.0,640.7 L1229.1,642.3 L1230.3,643.9 L1231.4,645.6 L1232.5,647.2 L1233.6,648.8 L1234.7,650.5 L1235.8,652.1 L1236.9,653.7 L1238.0,655.4 L1239.1,657.0 L1240.2,658.7 L1241.3,660.3 L1242.3,662.0 L1243.4,663.6 L1244.5,665.3 L1245.5,667.0 L1246.6,668.6 L1247.6,670.3 L1248.7,672.0 L1249.7,673.6 L1250.7,675.3 L1251.8,677.0 L1252.8,678.7 L1253.8,680.3 L1254.8,682.0 L1255.8,683.7 L1256.9,685.4 L1257.9,687.1 L1258.9,688.8 L1259.8,690.5 L1260.8,692.2 L1261.8,693.9 L1262.8,695.6 L1263.8,697.3 L1264.7,699.0 L1265.7,700.7 L1266.6,702.4 L1267.6,704.2 L1268.6,705.9 L1269.5,707.6 L1270.4,709.3 L1271.4,711.0 L1272.3,712.8 L1273.2,714.5 L1274.1,716.2 L1275.1,718.0 L1276.0,719.7 L1276.9,721.5 L1277.8,723.2 L1278.7,724.9 L1279.6,726.7 L1280.5,728.4 L1281.4,730.2 L1282.2,731.9 L1283.1,733.7 L1284.0,735.4 L1284.9,737.2 L1285.7,739.0 L1286.6,740.7 L1287.5,742.5 L1288.3,744.3 L1289.2,746.0 L1290.0,747.8 L1290.9,749.6 L1291.7,751.3 L1292.5,753.1 L1293.4,754.9 L1294.2,756.7 L1295.0,758.5 L1295.9,760.3 L1296.7,762.0 L1297.5,763.8 L1298.3,765.6 L1299.1,767.4 L1299.9,769.2 L1300.7,771.0 L1301.5,772.8 L1302.3,774.6 L1303.1,776.4 L1303.9,778.2 L1304.7,780.0 L1305.5,781.8 L1306.3,783.6 L1307.0,785.5 L1307.8,787.3 L1308.6,789.1 L1309.4,790.9 L1310.1,792.7 L1310.9,794.5 L1311.7,796.4 L1312.4,798.2 L1313.2,800.0 L1313.9,801.9 L1314.7,803.7 L1315.5,805.5 L1316.2,807.3 L1317.0,809.2 L1317.7,811.0 L1318.4,812.9 L1319.2,814.7 L1319.9,816.5 L1320.7,818.4 L1321.4,820.2 L1322.1,822.1 L1322.8,823.9 L1323.6,825.8 L1324.3,827.6 L1325.0,829.5 L1325.7,831.3 L1326.5,833.2 L1327.2,835.1 L1327.9,836.9 L1328.6,838.8 L1329.3,840.6 L1330.0,842.5 L1330.7,844.4 L1331.5,846.2 L1332.2,848.1 L1332.9,850.0 L1333.6,851.8 L1334.3,853.7 L1334.9,855.6 L1335.6,857.5 L1336.3,859.3 L1337.0,861.2 L1337.7,863.1 L1338.4,865.0 L1339.1,866.9 L1339.7,868.7 L1340.4,870.6 L1341.1,872.5 L1341.7,874.4 L1342.4,876.3 L1343.1,878.2 L1343.7,880.1 L1344.4,882.0 L1345.0,883.9 L1345.7,885.8 L1346.4,887.7 L1347.0,889.5 L1347.6,891.4 L1348.3,893.3 L1348.9,895.2 L1349.6,897.1 L1350.2,899.0 L1350.8,900.9 L1351.4,902.9 L1352.1,904.8 L1352.7,906.7 L1353.3,908.6 L1353.9,910.5 L1354.5,912.4 L1355.1,914.3 L1355.7,916.2 L1356.3,918.1 L1356.9,920.0 L1357.5,921.9 L1358.1,923.9 L1358.7,925.8 L1359.3,927.7 L1359.8,929.6 L1360.4,931.5 L1361.0,933.4 L1361.6,935.4 L1362.1,937.3 L1362.7,939.2 L1363.2,941.1 L1363.8,943.0 L1364.3,945.0 L1364.9,946.9 L1365.4,948.8 L1366.0,950.7 L1366.5,952.7 L1367.0,954.6 L1367.6,956.5 L1368.1,958.4 L1368.6,960.4 L1369.1,962.3 L1369.6,964.2 L1370.1,966.2 L1370.6,968.1 L1371.1,970.0 L1371.6,971.9 L1372.1,973.9 L1372.6,975.8 L1373.1,977.7 L1373.6,979.7 L1374.1,981.6 L1374.6,983.5 L1375.0,985.5 L1375.5,987.4 L1376.0,989.3 L1376.4,991.3 L1376.9,993.2 L1377.3,995.2 L1377.8,997.1 L1378.2,999.0 L1378.7,1001.0 L1379.1,1002.9 L1379.6,1004.8 L1380.0,1006.8 L1380.4,1008.7 L1380.9,1010.7 L1381.3,1012.6 L1381.7,1014.6 L1382.1,1016.5 L1382.6,1018.4 L1383.0,1020.4 L1383.4,1022.3 L1383.8,1024.3 L1384.2,1026.2 L1384.6,1028.2 L1385.0,1030.1 L1385.4,1032.1 L1385.8,1034.0 L1386.2,1036.0 L1386.6,1037.9 L1387.0,1039.9 L1387.4,1041.8 L1387.8,1043.8 L1388.1,1045.7 L1388.5,1047.7 L1388.9,1049.6 L1389.3,1051.6 L1389.6,1053.5 L1390.0,1055.5 L1390.4,1057.4 L1390.7,1059.4 L1391.1,1061.3 L1391.5,1063.3 L1391.8,1065.2 L1392.2,1067.2 L1392.5,1069.1 L1392.9,1071.1 L1393.2,1073.1 L1393.6,1075.0 L1393.9,1077.0 L1394.3,1078.9 L1394.6,1080.9 L1394.9,1082.8 L1395.3,1084.8 L1395.6,1086.8 L1395.9,1088.7 L1396.3,1090.7 L1396.6,1092.6 L1396.9,1094.6 L1397.3,1096.6 L1397.6,1098.5 L1397.9,1100.5 L1398.2,1102.5 L1398.6,1104.4 L1398.9,1106.4 L1399.2,1108.3 L1399.5,1110.3 L1399.8,1112.3 L1400.1,1114.2 L1400.4,1116.2 L1400.8,1118.2 L1401.1,1120.1 L1401.4,1122.1 L1401.7,1124.1 L1402.0,1126.0 L1402.3,1128.0 L1402.6,1130.0 L1402.9,1131.9 L1403.2,1133.9 L1403.5,1135.9 L1403.8,1137.8 L1404.1,1139.8 L1404.4,1141.8 L1404.7,1143.7 L1405.0,1145.7 L1405.3,1147.7 L1405.5,1149.7 L1405.8,1151.6 L1406.1,1153.6 L1406.4,1155.6 L1406.7,1157.5 L1407.0,1159.5 L1407.3,1161.5 L1407.6,1163.5 L1407.8,1165.4 L1408.1,1167.4 L1408.4,1169.4 L1408.7,1171.3 L1409.0,1173.3 L1409.3,1175.3 L1409.5,1177.3 L1409.8,1179.2 L1410.1,1181.2 L1410.4,1183.2 L1410.7,1185.2 L1410.9,1187.1 L1411.2,1189.1 L1411.5,1191.1 L1411.8,1193.1 L1412.1,1195.0 L1412.3,1197.0 L1412.6,1199.0 L1412.9,1201.0 L1413.2,1203.0 L1413.5,1204.9 L1413.7,1206.9 L1414.0,1208.9 L1414.3,1210.9 L1414.6,1212.8 L1414.8,1214.8 L1415.1,1216.8 L1415.4,1218.8 L1415.7,1220.8 L1416.0,1222.7 L1416.2,1224.7 L1416.5,1226.7 L1416.8,1228.7 L1417.1,1230.7 L1417.4,1232.6 L1417.6,1234.6 L1417.9,1236.6 L1418.2,1238.6 L1418.5,1240.6 L1418.8,1242.5 L1419.1,1244.5 L1419.4,1246.5 L1419.7,1248.5 L1419.9,1250.5 L1420.2,1252.4 L1420.5,1254.4 L1420.9,1256.4 L1421.2,1258.4 L1421.5,1260.3 L1421.8,1262.3 L1422.1,1264.3 L1422.4,1266.3 L1422.8,1268.2 L1423.1,1270.2 L1423.4,1272.2 L1423.8,1274.2 L1424.1,1276.1 L1424.5,1278.1 L1424.8,1280.1 L1425.2,1282.0 L1425.6,1284.0 L1426.0,1286.0 L1426.3,1287.9 L1426.7,1289.9 L1427.1,1291.9 L1427.5,1293.8 L1427.9,1295.8 L1428.4,1297.8 L1428.8,1299.7 L1429.2,1301.7 L1429.7,1303.6 L1430.1,1305.6 L1430.6,1307.5 L1431.0,1309.5 L1431.5,1311.4 L1432.0,1313.4 L1432.5,1315.3 L1433.0,1317.3 L1433.5,1319.2 L1434.0,1321.2 L1434.6,1323.1 L1435.1,1325.1 L1435.7,1327.0 L1436.2,1328.9 L1436.8,1330.9 L1437.4,1332.8 L1438.0,1334.7 L1438.6,1336.6 L1439.2,1338.6 L1439.8,1340.5 L1440.5,1342.4 L1441.1,1344.3 L1441.8,1346.2 L1442.5,1348.2 L1443.2,1350.1 L1443.9,1352.0 L1444.6,1353.8 L1445.3,1355.7 L1446.1,1357.6 L1446.8,1359.5 L1447.6,1361.4 L1448.4,1363.2 L1449.2,1365.1 L1450.0,1366.9 L1450.8,1368.8 L1451.7,1370.6 L1452.5,1372.4 L1453.4,1374.2 L1454.3,1376.0 L1455.2,1377.8 L1456.1,1379.5 L1457.1,1381.3 L1458.0,1383.1 L1459.0,1384.8 L1460.0,1386.5 L1461.0,1388.2 L1462.0,1389.9 L1463.0,1391.6 L1464.1,1393.2 L1465.1,1394.9 L1466.2,1396.5 L1467.3,1398.1 L1468.4,1399.7 L1469.6,1401.3 L1470.7,1402.8 L1471.9,1404.4 L1473.1,1405.9 L1474.3,1407.4 L1475.5,1408.9 L1476.8,1410.3 L1478.0,1411.8 L1479.3,1413.2 L1480.6,1414.6 L1482.0,1416.0 L1483.3,1417.3 L1484.7,1418.6 L1486.1,1419.9 L1487.5,1421.2 L1488.9,1422.5 L1490.3,1423.7 L1491.8,1424.9 L1493.3,1426.1 L1494.8,1427.2 L1496.3,1428.4 L1497.9,1429.4 L1499.5,1430.5 L1501.1,1431.6 L1502.7,1432.6 L1504.3,1433.6 L1506.0,1434.5 L1507.7,1435.4 L1509.4,1436.3 L1511.1,1437.2 L1512.8,1438.1 L1514.6,1438.9 L1516.4,1439.7 L1518.2,1440.5 L1520.0,1441.2 L1521.8,1441.9 L1523.7,1442.6 L1525.5,1443.3 L1527.4,1444.0 L1529.3,1444.6 L1531.2,1445.2 L1533.1,1445.8 L1535.0,1446.4 L1537.0,1446.9 L1538.9,1447.5 L1540.9,1448.0 L1542.8,1448.5 L1544.8,1449.0 L1546.8,1449.4 L1548.8,1449.9 L1550.8,1450.3 L1552.8,1450.7 L1554.9,1451.1 L1556.9,1451.5 L1558.9,1451.9 L1561.0,1452.3 L1563.0,1452.6 L1565.1,1452.9 L1567.1,1453.2 L1569.2,1453.6 L1571.2,1453.8 L1573.3,1454.1 L1575.4,1454.4 L1577.4,1454.7 L1579.5,1454.9 L1581.6,1455.2 L1583.6,1455.4 L1585.7,1455.6 L1587.7,1455.9 L1589.8,1456.1 L1591.9,1456.3 L1593.9,1456.5 L1596.0,1456.7 L1598.0,1456.9 L1600.1,1457.0 L1602.1,1457.2 L1604.2,1457.4 L1606.2,1457.5 L1608.2,1457.7 L1610.3,1457.9 L1612.3,1458.0 L1614.4,1458.1 L1616.4,1458.3 L1618.4,1458.4 L1620.4,1458.5 L1622.5,1458.7 L1624.5,1458.8 L1626.5,1458.9 L1628.5,1459.0 L1630.6,1459.1 L1632.6,1459.2 L1634.6,1459.3 L1636.6,1459.4 L1638.6,1459.5 L1640.6,1459.6 L1642.6,1459.6 L1644.7,1459.7 L1646.7,1459.8 L1648.7,1459.9 L1650.7,1459.9 L1652.7,1460.0 L1654.7,1460.1 L1656.7,1460.1 L1658.7,1460.2 L1660.7,1460.2 L1662.7,1460.3 L1664.7,1460.3 L1666.7,1460.4 L1668.7,1460.4 L1670.7,1460.5 L1672.7,1460.5 L1674.7,1460.5 L1676.7,1460.6 L1678.7,1460.6 L1680.7,1460.6 L1682.6,1460.7 L1684.6,1460.7 L1686.6,1460.7 L1688.6,1460.8 L1690.6,1460.8 L1692.6,1460.8 L1694.6,1460.9 L1696.6,1460.9 L1698.6,1460.9 L1700.6,1460.9 L1702.6,1461.0 L1704.6,1461.0 L1706.6,1461.0 L1708.5,1461.1 L1710.5,1461.1 L1712.5,1461.1 L1714.5,1461.1 L1716.5,1461.2 L1718.5,1461.2 L1720.5,1461.2 L1722.5,1461.3 L1724.5,1461.3 L1726.5,1461.3 L1728.5,1461.3 L1730.5,1461.4 L1732.5,1461.4 L1734.4,1461.4 L1736.4,1461.5 L1738.4,1461.5 L1740.4,1461.5 L1742.4,1461.5 L1744.4,1461.6 L1746.4,1461.6 L1748.4,1461.6 L1750.4,1461.6 L1752.4,1461.7 L1754.4,1461.7 L1756.4,1461.7 L1758.4,1461.8 L1760.4,1461.8 L1762.4,1461.8 L1764.4,1461.8 L1766.3,1461.9 L1768.3,1461.9 L1770.3,1461.9 L1772.3,1461.9 L1774.3,1462.0 L1776.3,1462.0 L1778.3,1462.0 L1780.3,1462.0 L1782.3,1462.1 L1784.3,1462.1 L1786.3,1462.1 L1788.3,1462.2 L1790.3,1462.2 L1792.3,1462.2 L1794.3,1462.2 L1796.3,1462.3 L1798.3,1462.3 L1800.2,1462.3 L1802.2,1462.3 L1804.2,1462.4 L1806.2,1462.4 L1808.2,1462.4 L1810.2,1462.4 L1812.2,1462.5 L1814.2,1462.5 L1816.2,1462.5 L1818.2,1462.5 L1820.2,1462.6 L1822.2,1462.6 L1824.2,1462.6 L1826.2,1462.6 L1828.2,1462.6 L1830.2,1462.7 L1832.2,1462.7 L1834.2,1462.7 L1836.2,1462.7 L1838.2,1462.8 L1840.2,1462.8 L1842.2,1462.8 L1844.1,1462.8 L1846.1,1462.8 L1848.1,1462.9 L1850.1,1462.9 L1852.1,1462.9 L1854.1,1462.9 L1856.1,1463.0 L1858.1,1463.0 L1860.1,1463.0 L1862.1,1463.0 L1864.1,1463.0 L1866.1,1463.1 L1868.1,1463.1 L1870.1,1463.1 L1872.1,1463.1 L1874.1,1463.1 L1876.1,1463.1 L1878.1,1463.2 L1880.1,1463.2 L1882.1,1463.2 L1884.1,1463.2 L1886.1,1463.2 L1888.1,1463.3 L1890.1,1463.3 L1892.1,1463.3 L1894.1,1463.3 L1896.1,1463.3 L1898.1,1463.3 L1900.1,1463.4 L1902.1,1463.4 L1904.0,1463.4 L1906.0,1463.4 L1908.0,1463.4 L1910.0,1463.4 L1912.0,1463.4 L1914.0,1463.5 L1916.0,1463.5 L1918.0,1463.5 L1920.0,1463.5 L1922.0,1463.5 L1924.0,1463.5 L1926.0,1463.5 L1928.0,1463.6 L1930.0,1463.6 L1932.0,1463.6 L1934.0,1463.6 L1936.0,1463.6 L1938.0,1463.6 L1940.0,1463.6 L1942.0,1463.6 L1944.0,1463.6 L1946.0,1463.6 L1948.0,1463.7 L1950.0,1463.7 L1952.0,1463.7 L1954.0,1463.7 L1956.0,1463.7 L1958.0,1463.7 L1960.0,1463.7 L1962.0,1463.7 L1964.0,1463.7 L1966.0,1463.7 L1968.0,1463.7 L1970.0,1463.7 L1972.0,1463.7 L1974.0,1463.7 L1976.0,1463.8 L1978.0,1463.8 L1980.0,1463.8 L1982.0,1463.8 L1984.0,1463.8 L1986.0,1463.8 L1988.0,1463.8 L1990.0,1463.8 L1992.0,1463.8 L1994.0,1463.8 L1996.0,1463.8 L1998.0,1463.8 L2000.0,1463.8 L2002.0,1463.8 L2004.0,1463.8 L2006.0,1463.8 L2008.0,1463.8 L2010.0,1463.8 L2012.0,1463.8 L2014.0,1463.8 L2016.0,1463.8 L2018.0,1463.8 L2020.0,1463.8 L2022.0,1463.8 L2024.0,1463.8 L2026.0,1463.8 L2028.0,1463.7 L2030.0,1463.7 L2032.0,1463.7 L2034.0,1463.7 L2036.0,1463.7 L2038.0,1463.7 L2040.0,1463.7 L2042.0,1463.7 L2044.0,1463.7 L2046.0,1463.7 L2048.0,1463.7 L2050.0,1463.7 L2052.0,1463.7 L2054.0,1463.6 L2056.0,1463.6 L2058.0,1463.6 L2060.0,1463.6 L2062.0,1463.6 L2064.0,1463.6 L2066.0,1463.6 L2068.0,1463.6 L2070.0,1463.5 L2072.0,1463.5 L2074.0,1463.5 L2076.0,1463.5 L2078.0,1463.5 L2080.0,1463.5" stroke="#008000" stroke-width="7" fill="none" stroke-linecap="round" stroke-linejoin="round"/>
<path d="M342.5,156.5 L341.0,149.5 L352.0,146.6 L353.9,146.4 L355.8,146.2 L357.7,146.0 L359.7,145.8 L361.6,145.6 L363.5,145.4 L365.4,145.2 L367.3,145.0 L369.3,144.8 L371.2,144.7 L373.2,144.5 L375.1,144.3 L377.1,144.1 L379.0,143.9 L381.0,143.7 L382.9,143.5 L384.9,143.4 L386.9,143.2 L388.8,143.0 L390.8,142.8 L392.8,142.7 L394.8,142.5 L396.7,142.3 L398.7,142.2 L400.7,142.0 L402.7,141.8 L404.7,141.7 L406.7,141.5 L408.7,141.4 L410.7,141.2 L412.7,141.1 L414.7,141.0 L416.7,140.8 L418.7,140.7 L420.8,140.6 L422.8,140.4 L424.8,140.3 L426.8,140.2 L428.8,140.1 L430.9,140.0 L432.9,139.9 L434.9,139.8 L436.9,139.7 L439.0,139.6 L441.0,139.5 L443.0,139.4 L445.1,139.4 L447.1,139.3 L449.1,139.2 L451.2,139.2 L453.2,139.1 L455.2,139.1 L457.3,139.1 L459.3,139.0 L461.3,139.0 L463.4,139.0 L465.4,139.0 L467.5,139.0 L469.5,139.0 L471.5,139.0 L473.6,139.0 L475.6,139.0 L477.6,139.0 L479.7,139.0 L481.7,139.1 L483.8,139.1 L485.8,139.2 L487.8,139.3 L489.9,139.3 L491.9,139.4 L493.9,139.5 L495.9,139.6 L498.0,139.7 L500.0,139.8 L502.0,139.9 L504.0,140.0 L506.1,140.2 L508.1,140.3 L510.1,140.5 L512.1,140.6 L514.1,140.8 L516.2,141.0 L518.2,141.2 L520.2,141.4 L522.2,141.6 L524.2,141.8 L526.2,142.0 L528.2,142.3 L530.2,142.5 L532.2,142.8 L534.2,143.0 L536.1,143.3 L538.1,143.6 L540.1,143.9 L542.1,144.2 L544.1,144.5 L546.0,144.9 L548.0,145.2 L550.0,145.5 L551.9,145.9 L553.9,146.3 L555.8,146.7 L557.8,147.1 L559.7,147.5 L561.7,147.9 L563.6,148.3 L565.6,148.8 L567.5,149.2 L569.4,149.7 L571.3,150.2 L573.2,150.7 L575.2,151.2 L577.1,151.7 L579.0,152.2 L580.9,152.8 L582.7,153.3 L584.6,153.9 L586.5,154.5 L588.4,155.1 L590.3,155.7 L592.1,156.3 L594.0,156.9 L595.8,157.6 L597.7,158.2 L599.5,158.9 L601.4,159.6 L603.2,160.3 L605.0,161.0 L606.9,161.7 L608.7,162.5 L610.5,163.2 L612.3,164.0 L614.1,164.7 L615.9,165.5 L617.7,166.3 L619.5,167.1 L621.3,167.9 L623.1,168.7 L624.9,169.6 L626.7,170.4 L628.4,171.3 L630.2,172.1 L632.0,173.0 L633.7,173.9 L635.5,174.8 L637.2,175.7 L639.0,176.6 L640.7,177.5 L642.5,178.4 L644.2,179.3 L646.0,180.3 L647.7,181.2 L649.4,182.2 L651.2,183.1 L652.9,184.1 L654.6,185.1 L656.3,186.1 L658.1,187.1 L659.8,188.1 L661.5,189.1 L663.2,190.1 L664.9,191.1 L666.6,192.1 L668.3,193.1 L670.0,194.2 L671.7,195.2 L673.4,196.2 L675.1,197.3 L676.8,198.3 L678.5,199.4 L680.2,200.4 L681.9,201.5 L683.6,202.6 L685.3,203.6 L686.9,204.7 L688.6,205.8 L690.3,206.9 L692.0,208.0 L693.7,209.0 L695.4,210.1 L697.0,211.2 L698.7,212.3 L700.4,213.4 L702.1,214.5 L703.7,215.6 L705.4,216.7 L707.1,217.8 L708.8,218.9 L710.4,220.0 L712.1,221.1 L713.8,222.2 L715.5,223.3 L717.1,224.4 L718.8,225.6 L720.5,226.7 L722.2,227.8 L723.8,228.9 L725.5,230.0 L727.2,231.1 L728.9,232.2 L730.6,233.3 L732.2,234.4 L733.9,235.5 L735.6,236.6 L737.3,237.7 L738.9,238.8 L740.6,239.9 L742.3,241.0 L744.0,242.0 L745.7,243.1 L747.4,244.2 L749.1,245.3 L750.8,246.4 L752.4,247.4 L754.1,248.5 L755.8,249.5 L757.5,250.6 L759.2,251.7 L760.9,252.7 L762.6,253.8 L764.3,254.8 L766.0,255.8 L767.8,256.9 L769.5,257.9 L771.2,258.9 L772.9,259.9 L774.6,260.9 L776.3,261.9 L778.1,262.9 L779.8,263.9 L781.5,264.9 L783.2,265.9 L785.0,266.8 L786.7,267.8 L788.5,268.7 L790.2,269.7 L792.0,270.6 L793.7,271.5 L795.5,272.5 L797.2,273.4 L799.0,274.3 L800.8,275.2 L802.5,276.1 L804.3,277.0 L806.1,277.8 L807.8,278.7 L809.6,279.6 L811.4,280.4 L813.2,281.3 L815.0,282.1 L816.8,283.0 L818.6,283.8 L820.4,284.6 L822.2,285.5 L824.0,286.3 L825.8,287.1 L827.6,287.9 L829.4,288.7 L831.2,289.5 L833.0,290.3 L834.8,291.1 L836.6,291.8 L838.4,292.6 L840.3,293.4 L842.1,294.2 L843.9,294.9 L845.7,295.7 L847.6,296.4 L849.4,297.2 L851.2,297.9 L853.1,298.7 L854.9,299.4 L856.8,300.2 L858.6,300.9 L860.4,301.6 L862.3,302.3 L864.1,303.1 L866.0,303.8 L867.8,304.5 L869.7,305.2 L871.5,305.9 L873.4,306.6 L875.2,307.4 L877.1,308.1 L878.9,308.8 L880.8,309.5 L882.7,310.2 L884.5,310.9 L886.4,311.6 L888.2,312.3 L890.1,313.0 L892.0,313.7 L893.8,314.4 L895.7,315.0 L897.6,315.7 L899.4,316.4 L901.3,317.1 L903.2,317.8 L905.0,318.5 L906.9,319.2 L908.8,319.9 L910.6,320.6 L912.5,321.3 L914.4,322.0 L916.3,322.7 L918.1,323.4 L920.0,324.0 L921.9,324.7 L923.7,325.4 L925.6,326.1 L927.5,326.8 L929.4,327.5 L931.2,328.2 L933.1,328.9 L935.0,329.7 L936.9,330.4 L938.7,331.1 L940.6,331.8 L942.5,332.5 L944.3,333.2 L946.2,333.9 L948.1,334.7 L949.9,335.4 L951.8,336.1 L953.7,336.8 L955.5,337.6 L957.4,338.3 L959.3,339.0 L961.1,339.8 L963.0,340.5 L964.9,341.3 L966.7,342.0 L968.6,342.7 L970.5,343.5 L972.3,344.3 L974.2,345.0 L976.0,345.8 L977.9,346.5 L979.7,347.3 L981.6,348.1 L983.5,348.8 L985.3,349.6 L987.2,350.4 L989.0,351.2 L990.9,352.0 L992.7,352.8 L994.5,353.5 L996.4,354.3 L998.2,355.1 L1000.1,355.9 L1001.9,356.7 L1003.7,357.6 L1005.6,358.4 L1007.4,359.2 L1009.2,360.0 L1011.1,360.8 L1012.9,361.7 L1014.7,362.5 L1016.5,363.3 L1018.4,364.2 L1020.2,365.0 L1022.0,365.8 L1023.8,366.7 L1025.6,367.6 L1027.4,368.4 L1029.2,369.3 L1031.1,370.1 L1032.9,371.0 L1034.7,371.9 L1036.5,372.8 L1038.2,373.7 L1040.0,374.5 L1041.8,375.4 L1043.6,376.3 L1045.4,377.2 L1047.2,378.1 L1049.0,379.1 L1050.7,380.0 L1052.5,380.9 L1054.3,381.8 L1056.1,382.8 L1057.8,383.7 L1059.6,384.6 L1061.3,385.6 L1063.1,386.5 L1064.8,387.5 L1066.6,388.4 L1068.3,389.4 L1070.1,390.4 L1071.8,391.3 L1073.6,392.3 L1075.3,393.3 L1077.0,394.3 L1078.8,395.3 L1080.5,396.3 L1082.2,397.3 L1083.9,398.3 L1085.7,399.3 L1087.4,400.3 L1089.1,401.3 L1090.8,402.3 L1092.5,403.4 L1094.2,404.4 L1095.9,405.4 L1097.6,406.5 L1099.3,407.5 L1101.0,408.6 L1102.7,409.6 L1104.4,410.7 L1106.0,411.7 L1107.7,412.8 L1109.4,413.9 L1111.1,414.9 L1112.7,416.0 L1114.4,417.1 L1116.1,418.2 L1117.7,419.3 L1119.4,420.4 L1121.0,421.5 L1122.7,422.6 L1124.3,423.7 L1126.0,424.8 L1127.6,425.9 L1129.3,427.1 L1130.9,428.2 L1132.5,429.3 L1134.2,430.5 L1135.8,431.6 L1137.4,432.7 L1139.0,433.9 L1140.7,435.0 L1142.3,436.2 L1143.9,437.4 L1145.5,438.5 L1147.1,439.7 L1148.7,440.9 L1150.3,442.0 L1151.9,443.2 L1153.5,444.4 L1155.1,445.6 L1156.7,446.8 L1158.2,448.0 L1159.8,449.2 L1161.4,450.4 L1163.0,451.6 L1164.5,452.8 L1166.1,454.0 L1167.7,455.3 L1169.2,456.5 L1170.8,457.7 L1172.4,458.9 L1173.9,460.2 L1175.5,461.4 L1177.0,462.7 L1178.5,463.9 L1180.1,465.2 L1181.6,466.4 L1183.1,467.7 L1184.7,469.0 L1186.2,470.2 L1187.7,471.5 L1189.2,472.8 L1190.8,474.1 L1192.3,475.3 L1193.8,476.6 L1195.3,477.9 L1196.8,479.2 L1198.3,480.5 L1199.8,481.8 L1201.3,483.1 L1202.8,484.4 L1204.2,485.7 L1205.7,487.1 L1207.2,488.4 L1208.7,489.7 L1210.2,491.0 L1211.6,492.4 L1213.1,493.7 L1214.6,495.1 L1216.0,496.4 L1217.5,497.8 L1218.9,499.1 L1220.4,500.5 L1221.8,501.8 L1223.3,503.2 L1224.7,504.5 L1226.1,505.9 L1227.6,507.3 L1229.0,508.7 L1230.4,510.1 L1231.8,511.4 L1233.3,512.8 L1234.7,514.2 L1236.1,515.6 L1237.5,517.0 L1238.9,518.4 L1240.3,519.8 L1241.7,521.2 L1243.1,522.6 L1244.5,524.1 L1245.9,525.5 L1247.3,526.9 L1248.7,528.3 L1250.0,529.8 L1251.4,531.2 L1252.8,532.6 L1254.1,534.1 L1255.5,535.5 L1256.9,537.0 L1258.2,538.4 L1259.6,539.9 L1260.9,541.3 L1262.3,542.8 L1263.6,544.2 L1265.0,545.7 L1266.3,547.2 L1267.6,548.7 L1269.0,550.1 L1270.3,551.6 L1271.6,553.1 L1272.9,554.6 L1274.2,556.1 L1275.5,557.6 L1276.9,559.1 L1278.2,560.6 L1279.5,562.1 L1280.8,563.6 L1282.0,565.1 L1283.3,566.6 L1284.6,568.1 L1285.9,569.6 L1287.2,571.2 L1288.5,572.7 L1289.7,574.2 L1291.0,575.8 L1292.3,577.3 L1293.5,578.8 L1294.8,580.4 L1296.0,581.9 L1297.3,583.5 L1298.5,585.0 L1299.8,586.6 L1301.0,588.1 L1302.3,589.7 L1303.5,591.2 L1304.7,592.8 L1305.9,594.4 L1307.2,596.0 L1308.4,597.5 L1309.6,599.1 L1310.8,600.7 L1312.0,602.3 L1313.2,603.9 L1314.4,605.4 L1315.6,607.0 L1316.8,608.6 L1318.0,610.2 L1319.2,611.8 L1320.3,613.4 L1321.5,615.1 L1322.7,616.7 L1323.9,618.3 L1325.0,619.9 L1326.2,621.5 L1327.4,623.1 L1328.5,624.8 L1329.7,626.4 L1330.8,628.0 L1331.9,629.6 L1333.1,631.3 L1334.2,632.9 L1335.4,634.6 L1336.5,636.2 L1337.6,637.9 L1338.7,639.5 L1339.8,641.2 L1341.0,642.8 L1342.1,644.5 L1343.2,646.1 L1344.3,647.8 L1345.4,649.5 L1346.5,651.1 L1347.6,652.8 L1348.6,654.5 L1349.7,656.2 L1350.8,657.8 L1351.9,659.5 L1352.9,661.2 L1354.0,662.9 L1355.1,664.6 L1356.1,666.3 L1357.2,668.0 L1358.2,669.7 L1359.3,671.4 L1360.3,673.1 L1361.4,674.8 L1362.4,676.5 L1363.4,678.2 L1364.5,679.9 L1365.5,681.6 L1366.5,683.3 L1367.5,685.0 L1368.5,686.8 L1369.6,688.5 L1370.6,690.2 L1371.6,692.0 L1372.6,693.7 L1373.5,695.4 L1374.5,697.2 L1375.5,698.9 L1376.5,700.6 L1377.5,702.4 L1378.5,704.1 L1379.4,705.9 L1380.4,707.6 L1381.3,709.4 L1382.3,711.1 L1383.3,712.9 L1384.2,714.7 L1385.2,716.4 L1386.1,718.2 L1387.0,719.9 L1388.0,721.7 L1388.9,723.5 L1389.8,725.3 L1390.7,727.0 L1391.7,728.8 L1392.6,730.6 L1393.5,732.4 L1394.4,734.2 L1395.3,736.0 L1396.2,737.7 L1397.1,739.5 L1398.0,741.3 L1398.9,743.1 L1399.8,744.9 L1400.6,746.7 L1401.5,748.5 L1402.4,750.3 L1403.3,752.1 L1404.1,753.9 L1405.0,755.7 L1405.8,757.5 L1406.7,759.4 L1407.5,761.2 L1408.4,763.0 L1409.2,764.8 L1410.1,766.6 L1410.9,768.5 L1411.7,770.3 L1412.6,772.1 L1413.4,773.9 L1414.2,775.8 L1415.0,777.6 L1415.8,779.4 L1416.6,781.3 L1417.5,783.1 L1418.3,784.9 L1419.1,786.8 L1419.8,788.6 L1420.6,790.5 L1421.4,792.3 L1422.2,794.1 L1423.0,796.0 L1423.8,797.8 L1424.5,799.7 L1425.3,801.5 L1426.1,803.4 L1426.8,805.3 L1427.6,807.1 L1428.3,809.0 L1429.1,810.8 L1429.8,812.7 L1430.6,814.6 L1431.3,816.4 L1432.1,818.3 L1432.8,820.2 L1433.5,822.0 L1434.2,823.9 L1435.0,825.8 L1435.7,827.6 L1436.4,829.5 L1437.1,831.4 L1437.8,833.3 L1438.5,835.2 L1439.2,837.0 L1439.9,838.9 L1440.6,840.8 L1441.3,842.7 L1442.0,844.6 L1442.7,846.5 L1443.4,848.4 L1444.0,850.2 L1444.7,852.1 L1445.4,854.0 L1446.0,855.9 L1446.7,857.8 L1447.4,859.7 L1448.0,861.6 L1448.7,863.5 L1449.3,865.4 L1450.0,867.3 L1450.6,869.2 L1451.3,871.1 L1451.9,873.0 L1452.5,874.9 L1453.2,876.8 L1453.8,878.7 L1454.4,880.6 L1455.0,882.5 L1455.6,884.5 L1456.2,886.4 L1456.9,888.3 L1457.5,890.2 L1458.1,892.1 L1458.7,894.0 L1459.3,895.9 L1459.8,897.8 L1460.4,899.8 L1461.0,901.7 L1461.6,903.6 L1462.2,905.5 L1462.8,907.4 L1463.3,909.4 L1463.9,911.3 L1464.5,913.2 L1465.0,915.1 L1465.6,917.1 L1466.1,919.0 L1466.7,920.9 L1467.2,922.8 L1467.8,924.8 L1468.3,926.7 L1468.9,928.6 L1469.4,930.6 L1469.9,932.5 L1470.5,934.4 L1471.0,936.3 L1471.5,938.3 L1472.0,940.2 L1472.5,942.1 L1473.1,944.1 L1473.6,946.0 L1474.1,947.9 L1474.6,949.9 L1475.1,951.8 L1475.6,953.8 L1476.1,955.7 L1476.6,957.6 L1477.1,959.6 L1477.5,961.5 L1478.0,963.4 L1478.5,965.4 L1479.0,967.3 L1479.5,969.3 L1479.9,971.2 L1480.4,973.1 L1480.9,975.1 L1481.3,977.0 L1481.8,979.0 L1482.2,980.9 L1482.7,982.9 L1483.1,984.8 L1483.6,986.7 L1484.0,988.7 L1484.5,990.6 L1484.9,992.6 L1485.3,994.5 L1485.8,996.5 L1486.2,998.4 L1486.6,1000.3 L1487.0,1002.3 L1487.4,1004.2 L1487.9,1006.2 L1488.3,1008.1 L1488.7,1010.1 L1489.1,1012.0 L1489.5,1014.0 L1489.9,1015.9 L1490.3,1017.8 L1490.7,1019.8 L1491.1,1021.7 L1491.5,1023.7 L1491.8,1025.6 L1492.2,1027.6 L1492.6,1029.5 L1493.0,1031.5 L1493.4,1033.4 L1493.7,1035.4 L1494.1,1037.3 L1494.5,1039.2 L1494.8,1041.2 L1495.2,1043.1 L1495.6,1045.1 L1495.9,1047.0 L1496.3,1049.0 L1496.7,1050.9 L1497.0,1052.9 L1497.4,1054.8 L1497.7,1056.8 L1498.1,1058.7 L1498.4,1060.7 L1498.8,1062.6 L1499.1,1064.6 L1499.5,1066.5 L1499.8,1068.5 L1500.2,1070.4 L1500.5,1072.4 L1500.8,1074.3 L1501.2,1076.3 L1501.5,1078.2 L1501.8,1080.1 L1502.2,1082.1 L1502.5,1084.0 L1502.9,1086.0 L1503.2,1087.9 L1503.5,1089.9 L1503.9,1091.8 L1504.2,1093.8 L1504.5,1095.7 L1504.9,1097.7 L1505.2,1099.7 L1505.5,1101.6 L1505.8,1103.6 L1506.2,1105.5 L1506.5,1107.5 L1506.8,1109.4 L1507.2,1111.4 L1507.5,1113.3 L1507.8,1115.3 L1508.2,1117.2 L1508.5,1119.2 L1508.8,1121.1 L1509.2,1123.1 L1509.5,1125.0 L1509.8,1127.0 L1510.1,1128.9 L1510.5,1130.9 L1510.8,1132.9 L1511.2,1134.8 L1511.5,1136.8 L1511.8,1138.7 L1512.2,1140.7 L1512.5,1142.6 L1512.8,1144.6 L1513.2,1146.5 L1513.5,1148.5 L1513.9,1150.5 L1514.2,1152.4 L1514.5,1154.4 L1514.9,1156.3 L1515.2,1158.3 L1515.6,1160.3 L1515.9,1162.2 L1516.3,1164.2 L1516.6,1166.1 L1517.0,1168.1 L1517.4,1170.0 L1517.7,1172.0 L1518.1,1174.0 L1518.4,1175.9 L1518.8,1177.9 L1519.2,1179.9 L1519.5,1181.8 L1519.9,1183.8 L1520.3,1185.7 L1520.7,1187.7 L1521.0,1189.7 L1521.4,1191.6 L1521.8,1193.6 L1522.2,1195.6 L1522.6,1197.5 L1523.0,1199.5 L1523.4,1201.5 L1523.7,1203.4 L1524.1,1205.4 L1524.5,1207.4 L1525.0,1209.3 L1525.4,1211.3 L1525.8,1213.3 L1526.2,1215.2 L1526.6,1217.2 L1527.0,1219.2 L1527.4,1221.1 L1527.9,1223.1 L1528.3,1225.1 L1528.7,1227.0 L1529.2,1229.0 L1529.6,1231.0 L1530.0,1233.0 L1530.5,1234.9 L1530.9,1236.9 L1531.4,1238.9 L1531.9,1240.8 L1532.3,1242.8 L1532.8,1244.8 L1533.3,1246.8 L1533.7,1248.7 L1534.2,1250.7 L1534.7,1252.7 L1535.2,1254.7 L1535.7,1256.7 L1536.2,1258.6 L1536.7,1260.6 L1537.2,1262.6 L1537.7,1264.6 L1538.2,1266.5 L1538.7,1268.5 L1539.2,1270.5 L1539.8,1272.5 L1540.3,1274.5 L1540.8,1276.4 L1541.4,1278.4 L1541.9,1280.4 L1542.5,1282.4 L1543.0,1284.4 L1543.6,1286.4 L1544.2,1288.3 L1544.8,1290.3 L1545.3,1292.3 L1545.9,1294.3 L1546.5,1296.3 L1547.1,1298.2 L1547.7,1300.2 L1548.3,1302.2 L1549.0,1304.1 L1549.6,1306.1 L1550.2,1308.1 L1550.9,1310.0 L1551.5,1312.0 L1552.2,1313.9 L1552.9,1315.9 L1553.5,1317.8 L1554.2,1319.7 L1554.9,1321.7 L1555.6,1323.6 L1556.3,1325.5 L1557.0,1327.4 L1557.8,1329.3 L1558.5,1331.2 L1559.3,1333.1 L1560.0,1335.0 L1560.8,1336.9 L1561.6,1338.8 L1562.4,1340.6 L1563.2,1342.5 L1564.0,1344.3 L1564.8,1346.2 L1565.7,1348.0 L1566.5,1349.8 L1567.4,1351.6 L1568.2,1353.4 L1569.1,1355.2 L1570.0,1357.0 L1570.9,1358.7 L1571.9,1360.5 L1572.8,1362.2 L1573.7,1364.0 L1574.7,1365.7 L1575.7,1367.4 L1576.7,1369.1 L1577.7,1370.8 L1578.7,1372.4 L1579.7,1374.1 L1580.8,1375.7 L1581.8,1377.4 L1582.9,1379.0 L1584.0,1380.6 L1585.1,1382.2 L1586.2,1383.7 L1587.3,1385.3 L1588.5,1386.8 L1589.6,1388.3 L1590.8,1389.9 L1592.0,1391.3 L1593.2,1392.8 L1594.5,1394.3 L1595.7,1395.7 L1597.0,1397.1 L1598.3,1398.5 L1599.6,1399.9 L1600.9,1401.3 L1602.2,1402.6 L1603.6,1404.0 L1604.9,1405.3 L1606.3,1406.6 L1607.7,1407.8 L1609.1,1409.1 L1610.6,1410.3 L1612.0,1411.5 L1613.5,1412.7 L1615.0,1413.9 L1616.5,1415.0 L1618.1,1416.2 L1619.6,1417.3 L1621.2,1418.4 L1622.8,1419.4 L1624.4,1420.5 L1626.0,1421.5 L1627.6,1422.5 L1629.3,1423.5 L1630.9,1424.4 L1632.6,1425.4 L1634.3,1426.3 L1636.0,1427.2 L1637.8,1428.1 L1639.5,1428.9 L1641.2,1429.7 L1643.0,1430.6 L1644.8,1431.4 L1646.6,1432.1 L1648.4,1432.9 L1650.2,1433.6 L1652.0,1434.3 L1653.8,1435.0 L1655.7,1435.7 L1657.5,1436.3 L1659.4,1437.0 L1661.3,1437.6 L1663.2,1438.2 L1665.1,1438.7 L1667.0,1439.3 L1668.9,1439.8 L1670.8,1440.4 L1672.7,1440.9 L1674.7,1441.4 L1676.6,1441.8 L1678.5,1442.3 L1680.5,1442.7 L1682.5,1443.2 L1684.4,1443.6 L1686.4,1444.0 L1688.4,1444.4 L1690.4,1444.8 L1692.4,1445.1 L1694.4,1445.5 L1696.4,1445.8 L1698.4,1446.2 L1700.4,1446.5 L1702.4,1446.8 L1704.4,1447.1 L1706.4,1447.4 L1708.4,1447.7 L1710.4,1447.9 L1712.4,1448.2 L1714.5,1448.5 L1716.5,1448.7 L1718.5,1448.9 L1720.5,1449.2 L1722.6,1449.4 L1724.6,1449.6 L1726.6,1449.8 L1728.6,1450.0 L1730.7,1450.3 L1732.7,1450.5 L1734.7,1450.6 L1736.7,1450.8 L1738.7,1451.0 L1740.7,1451.2 L1742.8,1451.4 L1744.8,1451.6 L1746.8,1451.7 L1748.8,1451.9 L1750.8,1452.1 L1752.8,1452.2 L1754.8,1452.4 L1756.8,1452.6 L1758.8,1452.7 L1760.8,1452.9 L1762.8,1453.0 L1764.8,1453.1 L1766.8,1453.3 L1768.8,1453.4 L1770.8,1453.5 L1772.8,1453.7 L1774.8,1453.8 L1776.8,1453.9 L1778.8,1454.0 L1780.8,1454.2 L1782.8,1454.3 L1784.8,1454.4 L1786.8,1454.5 L1788.8,1454.6 L1790.7,1454.7 L1792.7,1454.8 L1794.7,1454.9 L1796.7,1455.0 L1798.7,1455.1 L1800.7,1455.2 L1802.7,1455.3 L1804.7,1455.4 L1806.6,1455.5 L1808.6,1455.6 L1810.6,1455.7 L1812.6,1455.8 L1814.6,1455.8 L1816.6,1455.9 L1818.6,1456.0 L1820.5,1456.1 L1822.5,1456.2 L1824.5,1456.2 L1826.5,1456.3 L1828.5,1456.4 L1830.5,1456.5 L1832.5,1456.5 L1834.4,1456.6 L1836.4,1456.7 L1838.4,1456.8 L1840.4,1456.8 L1842.4,1456.9 L1844.4,1457.0 L1846.3,1457.0 L1848.3,1457.1 L1850.3,1457.2 L1852.3,1457.3 L1854.3,1457.3 L1856.3,1457.4 L1858.3,1457.5 L1860.3,1457.5 L1862.3,1457.6 L1864.2,1457.7 L1866.2,1457.7 L1868.2,1457.8 L1870.2,1457.9 L1872.2,1457.9 L1874.2,1458.0 L1876.2,1458.1 L1878.2,1458.1 L1880.2,1458.2 L1882.2,1458.3 L1884.2,1458.3 L1886.1,1458.4 L1888.1,1458.5 L1890.1,1458.5 L1892.1,1458.6 L1894.1,1458.7 L1896.1,1458.7 L1898.1,1458.8 L1900.1,1458.9 L1902.1,1458.9 L1904.1,1459.0 L1906.1,1459.0 L1908.1,1459.1 L1910.1,1459.2 L1912.1,1459.2 L1914.1,1459.3 L1916.1,1459.3 L1918.1,1459.4 L1920.1,1459.5 L1922.1,1459.5 L1924.1,1459.6 L1926.1,1459.6 L1928.1,1459.7 L1930.1,1459.7 L1932.1,1459.8 L1934.1,1459.9 L1936.1,1459.9 L1938.1,1460.0 L1940.1,1460.0 L1942.1,1460.1 L1944.1,1460.1 L1946.1,1460.2 L1948.1,1460.2 L1950.1,1460.3 L1952.1,1460.3 L1954.1,1460.4 L1956.1,1460.4 L1958.1,1460.5 L1960.1,1460.5 L1962.1,1460.6 L1964.1,1460.6 L1966.1,1460.7 L1968.1,1460.7 L1970.1,1460.8 L1972.1,1460.8 L1974.1,1460.8 L1976.1,1460.9 L1978.1,1460.9 L1980.1,1461.0 L1982.1,1461.0 L1984.1,1461.0 L1986.1,1461.1 L1988.1,1461.1 L1990.1,1461.2 L1992.1,1461.2 L1994.1,1461.2 L1996.1,1461.3 L1998.1,1461.3 L2000.1,1461.3 L2002.1,1461.4 L2004.1,1461.4 L2006.1,1461.4 L2008.1,1461.5 L2010.1,1461.5 L2012.1,1461.5 L2014.1,1461.6 L2016.1,1461.6 L2018.1,1461.6 L2020.1,1461.6 L2022.1,1461.7 L2024.1,1461.7 L2026.1,1461.7 L2028.1,1461.7 L2030.1,1461.8 L2032.1,1461.8 L2034.1,1461.8 L2036.1,1461.8 L2038.1,1461.8 L2040.1,1461.8 L2042.1,1461.9 L2044.1,1461.9 L2046.1,1461.9 L2048.1,1461.9 L2050.1,1461.9 L2052.1,1461.9 L2054.0,1461.9 L2056.0,1461.9 L2058.0,1462.0 L2060.0,1462.0 L2062.0,1462.0 L2064.0,1462.0 L2066.0,1462.0 L2068.0,1462.0 L2070.0,1462.0 L2072.0,1462.0 L2074.0,1462.0 L2076.0,1462.0 L2078.0,1462.0 L2080.0,1462.0" stroke="#ff0000" stroke-width="7" fill="none" stroke-linecap="round" stroke-linejoin="round"/>
<path d="M339.0,68.2 L341.0,68.2 L343.0,68.3 L345.0,68.3 L346.9,68.3 L348.9,68.4 L350.9,68.4 L352.9,68.4 L354.9,68.4 L356.8,68.5 L358.8,68.5 L360.8,68.5 L362.8,68.5 L364.8,68.6 L366.8,68.6 L368.8,68.6 L370.8,68.6 L372.8,68.7 L374.8,68.7 L376.8,68.7 L378.8,68.7 L380.8,68.8 L382.8,68.8 L384.8,68.8 L386.8,68.9 L388.8,68.9 L390.8,68.9 L392.8,69.0 L394.8,69.0 L396.8,69.0 L398.9,69.1 L400.9,69.1 L402.9,69.2 L404.9,69.2 L406.9,69.3 L408.9,69.3 L410.9,69.4 L412.9,69.4 L415.0,69.5 L417.0,69.6 L419.0,69.6 L421.0,69.7 L423.0,69.8 L425.0,69.9 L427.0,70.0 L429.0,70.1 L431.1,70.1 L433.1,70.2 L435.1,70.4 L437.1,70.5 L439.1,70.6 L441.1,70.7 L443.1,70.8 L445.1,70.9 L447.2,71.1 L449.2,71.2 L451.2,71.4 L453.2,71.5 L455.2,71.7 L457.2,71.8 L459.2,72.0 L461.2,72.2 L463.2,72.4 L465.2,72.6 L467.2,72.8 L469.2,73.0 L471.2,73.2 L473.2,73.4 L475.2,73.6 L477.2,73.9 L479.2,74.1 L481.2,74.4 L483.1,74.6 L485.1,74.9 L487.1,75.2 L489.1,75.5 L491.1,75.7 L493.0,76.0 L495.0,76.4 L497.0,76.7 L499.0,77.0 L500.9,77.3 L502.9,77.7 L504.9,78.0 L506.8,78.4 L508.8,78.8 L510.8,79.1 L512.7,79.5 L514.7,79.9 L516.6,80.3 L518.6,80.7 L520.5,81.2 L522.5,81.6 L524.4,82.0 L526.4,82.5 L528.3,82.9 L530.2,83.4 L532.2,83.9 L534.1,84.4 L536.0,84.9 L538.0,85.4 L539.9,85.9 L541.8,86.4 L543.7,86.9 L545.6,87.4 L547.6,88.0 L549.5,88.5 L551.4,89.1 L553.3,89.6 L555.2,90.2 L557.1,90.8 L559.0,91.4 L560.9,92.0 L562.8,92.6 L564.7,93.2 L566.6,93.8 L568.4,94.4 L570.3,95.1 L572.2,95.7 L574.1,96.4 L575.9,97.0 L577.8,97.7 L579.7,98.4 L581.6,99.1 L583.4,99.8 L585.3,100.5 L587.1,101.2 L589.0,101.9 L590.8,102.6 L592.7,103.3 L594.5,104.1 L596.4,104.8 L598.2,105.6 L600.0,106.3 L601.9,107.1 L603.7,107.9 L605.5,108.7 L607.3,109.5 L609.2,110.3 L611.0,111.1 L612.8,111.9 L614.6,112.7 L616.4,113.6 L618.2,114.4 L620.0,115.2 L621.8,116.1 L623.6,117.0 L625.4,117.8 L627.1,118.7 L628.9,119.6 L630.7,120.5 L632.5,121.4 L634.2,122.3 L636.0,123.2 L637.8,124.1 L639.5,125.1 L641.3,126.0 L643.0,126.9 L644.8,127.9 L646.5,128.8 L648.3,129.8 L650.0,130.8 L651.7,131.8 L653.5,132.7 L655.2,133.7 L656.9,134.7 L658.6,135.7 L660.3,136.8 L662.0,137.8 L663.8,138.8 L665.5,139.8 L667.2,140.9 L668.8,141.9 L670.5,143.0 L672.2,144.0 L673.9,145.1 L675.6,146.2 L677.3,147.3 L678.9,148.4 L680.6,149.5 L682.2,150.6 L683.9,151.7 L685.6,152.8 L687.2,153.9 L688.9,155.0 L690.5,156.2 L692.1,157.3 L693.8,158.5 L695.4,159.6 L697.0,160.8 L698.7,161.9 L700.3,163.1 L701.9,164.2 L703.5,165.4 L705.2,166.6 L706.8,167.7 L708.4,168.9 L710.0,170.1 L711.6,171.3 L713.2,172.5 L714.9,173.6 L716.5,174.8 L718.1,176.0 L719.7,177.2 L721.3,178.4 L722.9,179.6 L724.5,180.8 L726.1,182.0 L727.7,183.2 L729.3,184.3 L730.9,185.5 L732.5,186.7 L734.1,187.9 L735.7,189.1 L737.3,190.3 L739.0,191.5 L740.6,192.7 L742.2,193.8 L743.8,195.0 L745.4,196.2 L747.0,197.4 L748.6,198.6 L750.2,199.7 L751.8,200.9 L753.5,202.1 L755.1,203.2 L756.7,204.4 L758.3,205.5 L760.0,206.7 L761.6,207.8 L763.2,208.9 L764.8,210.1 L766.5,211.2 L768.1,212.3 L769.8,213.4 L771.4,214.6 L773.1,215.7 L774.7,216.8 L776.4,217.9 L778.0,218.9 L779.7,220.0 L781.3,221.1 L783.0,222.2 L784.7,223.2 L786.4,224.3 L788.0,225.3 L789.7,226.3 L791.4,227.4 L793.1,228.4 L794.8,229.4 L796.5,230.4 L798.2,231.4 L800.0,232.4 L801.7,233.3 L803.4,234.3 L805.1,235.3 L806.9,236.2 L808.6,237.2 L810.3,238.1 L812.1,239.0 L813.8,240.0 L815.6,240.9 L817.3,241.8 L819.1,242.7 L820.8,243.6 L822.6,244.5 L824.4,245.4 L826.1,246.3 L827.9,247.1 L829.7,248.0 L831.5,248.9 L833.3,249.7 L835.0,250.6 L836.8,251.4 L838.6,252.3 L840.4,253.1 L842.2,254.0 L844.0,254.8 L845.8,255.6 L847.6,256.4 L849.4,257.3 L851.2,258.1 L853.0,258.9 L854.8,259.7 L856.7,260.5 L858.5,261.3 L860.3,262.1 L862.1,262.9 L863.9,263.7 L865.8,264.5 L867.6,265.3 L869.4,266.1 L871.2,266.9 L873.1,267.7 L874.9,268.5 L876.7,269.2 L878.6,270.0 L880.4,270.8 L882.2,271.6 L884.1,272.4 L885.9,273.1 L887.7,273.9 L889.6,274.7 L891.4,275.5 L893.3,276.2 L895.1,277.0 L896.9,277.8 L898.8,278.6 L900.6,279.3 L902.5,280.1 L904.3,280.9 L906.1,281.7 L908.0,282.5 L909.8,283.2 L911.7,284.0 L913.5,284.8 L915.3,285.6 L917.2,286.4 L919.0,287.2 L920.9,288.0 L922.7,288.7 L924.5,289.5 L926.4,290.3 L928.2,291.1 L930.0,291.9 L931.9,292.8 L933.7,293.6 L935.5,294.4 L937.4,295.2 L939.2,296.0 L941.0,296.8 L942.8,297.7 L944.7,298.5 L946.5,299.3 L948.3,300.2 L950.1,301.0 L951.9,301.8 L953.8,302.7 L955.6,303.5 L957.4,304.4 L959.2,305.3 L961.0,306.1 L962.8,307.0 L964.6,307.9 L966.4,308.7 L968.2,309.6 L970.0,310.5 L971.8,311.4 L973.6,312.2 L975.4,313.1 L977.2,314.0 L979.0,314.9 L980.8,315.8 L982.6,316.7 L984.4,317.6 L986.2,318.5 L988.0,319.4 L989.8,320.4 L991.6,321.3 L993.3,322.2 L995.1,323.1 L996.9,324.1 L998.7,325.0 L1000.5,325.9 L1002.2,326.9 L1004.0,327.8 L1005.8,328.8 L1007.5,329.7 L1009.3,330.7 L1011.1,331.6 L1012.8,332.6 L1014.6,333.5 L1016.3,334.5 L1018.1,335.5 L1019.9,336.5 L1021.6,337.4 L1023.4,338.4 L1025.1,339.4 L1026.8,340.4 L1028.6,341.4 L1030.3,342.4 L1032.1,343.4 L1033.8,344.4 L1035.5,345.4 L1037.3,346.4 L1039.0,347.4 L1040.7,348.4 L1042.5,349.4 L1044.2,350.5 L1045.9,351.5 L1047.6,352.5 L1049.3,353.6 L1051.0,354.6 L1052.8,355.6 L1054.5,356.7 L1056.2,357.7 L1057.9,358.8 L1059.6,359.8 L1061.3,360.9 L1063.0,362.0 L1064.7,363.0 L1066.4,364.1 L1068.0,365.2 L1069.7,366.2 L1071.4,367.3 L1073.1,368.4 L1074.8,369.5 L1076.5,370.6 L1078.1,371.7 L1079.8,372.8 L1081.5,373.9 L1083.1,375.0 L1084.8,376.1 L1086.5,377.2 L1088.1,378.3 L1089.8,379.4 L1091.4,380.5 L1093.1,381.7 L1094.7,382.8 L1096.4,383.9 L1098.0,385.0 L1099.6,386.2 L1101.3,387.3 L1102.9,388.5 L1104.5,389.6 L1106.2,390.8 L1107.8,391.9 L1109.4,393.1 L1111.0,394.3 L1112.6,395.4 L1114.3,396.6 L1115.9,397.8 L1117.5,398.9 L1119.1,400.1 L1120.7,401.3 L1122.3,402.5 L1123.9,403.7 L1125.5,404.9 L1127.0,406.1 L1128.6,407.3 L1130.2,408.5 L1131.8,409.7 L1133.4,410.9 L1134.9,412.1 L1136.5,413.3 L1138.1,414.6 L1139.6,415.8 L1141.2,417.0 L1142.7,418.3 L1144.3,419.5 L1145.8,420.7 L1147.4,422.0 L1148.9,423.2 L1150.5,424.5 L1152.0,425.7 L1153.5,427.0 L1155.1,428.3 L1156.6,429.5 L1158.1,430.8 L1159.6,432.1 L1161.1,433.3 L1162.6,434.6 L1164.1,435.9 L1165.6,437.2 L1167.1,438.5 L1168.6,439.8 L1170.1,441.1 L1171.6,442.4 L1173.1,443.7 L1174.6,445.0 L1176.1,446.3 L1177.5,447.6 L1179.0,448.9 L1180.5,450.2 L1181.9,451.6 L1183.4,452.9 L1184.9,454.2 L1186.3,455.6 L1187.8,456.9 L1189.2,458.3 L1190.6,459.6 L1192.1,461.0 L1193.5,462.3 L1194.9,463.7 L1196.4,465.0 L1197.8,466.4 L1199.2,467.8 L1200.6,469.1 L1202.0,470.5 L1203.4,471.9 L1204.8,473.3 L1206.2,474.7 L1207.6,476.0 L1209.0,477.4 L1210.4,478.8 L1211.8,480.2 L1213.2,481.6 L1214.5,483.0 L1215.9,484.5 L1217.3,485.9 L1218.6,487.3 L1220.0,488.7 L1221.3,490.1 L1222.7,491.6 L1224.0,493.0 L1225.4,494.4 L1226.7,495.9 L1228.1,497.3 L1229.4,498.8 L1230.7,500.2 L1232.0,501.7 L1233.4,503.1 L1234.7,504.6 L1236.0,506.0 L1237.3,507.5 L1238.6,509.0 L1239.9,510.4 L1241.2,511.9 L1242.5,513.4 L1243.8,514.9 L1245.1,516.3 L1246.4,517.8 L1247.6,519.3 L1248.9,520.8 L1250.2,522.3 L1251.4,523.8 L1252.7,525.3 L1254.0,526.8 L1255.2,528.3 L1256.5,529.8 L1257.7,531.4 L1259.0,532.9 L1260.2,534.4 L1261.5,535.9 L1262.7,537.4 L1263.9,539.0 L1265.2,540.5 L1266.4,542.1 L1267.6,543.6 L1268.8,545.1 L1270.0,546.7 L1271.2,548.2 L1272.5,549.8 L1273.7,551.3 L1274.9,552.9 L1276.0,554.5 L1277.2,556.0 L1278.4,557.6 L1279.6,559.2 L1280.8,560.7 L1282.0,562.3 L1283.1,563.9 L1284.3,565.5 L1285.5,567.0 L1286.7,568.6 L1287.8,570.2 L1289.0,571.8 L1290.1,573.4 L1291.3,575.0 L1292.4,576.6 L1293.6,578.2 L1294.7,579.8 L1295.8,581.4 L1297.0,583.0 L1298.1,584.7 L1299.2,586.3 L1300.3,587.9 L1301.5,589.5 L1302.6,591.2 L1303.7,592.8 L1304.8,594.4 L1305.9,596.0 L1307.0,597.7 L1308.1,599.3 L1309.2,601.0 L1310.3,602.6 L1311.4,604.3 L1312.5,605.9 L1313.5,607.6 L1314.6,609.2 L1315.7,610.9 L1316.8,612.5 L1317.8,614.2 L1318.9,615.9 L1320.0,617.5 L1321.0,619.2 L1322.1,620.9 L1323.1,622.6 L1324.2,624.2 L1325.2,625.9 L1326.3,627.6 L1327.3,629.3 L1328.3,631.0 L1329.4,632.7 L1330.4,634.4 L1331.4,636.1 L1332.4,637.8 L1333.5,639.5 L1334.5,641.2 L1335.5,642.9 L1336.5,644.6 L1337.5,646.3 L1338.5,648.0 L1339.5,649.7 L1340.5,651.4 L1341.5,653.2 L1342.5,654.9 L1343.5,656.6 L1344.5,658.3 L1345.4,660.1 L1346.4,661.8 L1347.4,663.5 L1348.4,665.3 L1349.3,667.0 L1350.3,668.8 L1351.2,670.5 L1352.2,672.2 L1353.2,674.0 L1354.1,675.7 L1355.0,677.5 L1356.0,679.2 L1356.9,681.0 L1357.9,682.8 L1358.8,684.5 L1359.7,686.3 L1360.7,688.1 L1361.6,689.8 L1362.5,691.6 L1363.4,693.4 L1364.3,695.1 L1365.2,696.9 L1366.2,698.7 L1367.1,700.5 L1368.0,702.2 L1368.9,704.0 L1369.8,705.8 L1370.6,707.6 L1371.5,709.4 L1372.4,711.2 L1373.3,713.0 L1374.2,714.8 L1375.1,716.6 L1375.9,718.3 L1376.8,720.1 L1377.7,721.9 L1378.5,723.8 L1379.4,725.6 L1380.2,727.4 L1381.1,729.2 L1381.9,731.0 L1382.8,732.8 L1383.6,734.6 L1384.5,736.4 L1385.3,738.2 L1386.1,740.1 L1387.0,741.9 L1387.8,743.7 L1388.6,745.5 L1389.4,747.3 L1390.2,749.2 L1391.1,751.0 L1391.9,752.8 L1392.7,754.7 L1393.5,756.5 L1394.3,758.3 L1395.1,760.2 L1395.9,762.0 L1396.6,763.8 L1397.4,765.7 L1398.2,767.5 L1399.0,769.4 L1399.8,771.2 L1400.5,773.1 L1401.3,774.9 L1402.1,776.7 L1402.8,778.6 L1403.6,780.4 L1404.4,782.3 L1405.1,784.2 L1405.9,786.0 L1406.6,787.9 L1407.3,789.7 L1408.1,791.6 L1408.8,793.4 L1409.6,795.3 L1410.3,797.2 L1411.0,799.0 L1411.7,800.9 L1412.5,802.8 L1413.2,804.6 L1413.9,806.5 L1414.6,808.4 L1415.3,810.2 L1416.0,812.1 L1416.7,814.0 L1417.4,815.9 L1418.1,817.7 L1418.8,819.6 L1419.5,821.5 L1420.2,823.4 L1420.8,825.2 L1421.5,827.1 L1422.2,829.0 L1422.9,830.9 L1423.5,832.8 L1424.2,834.7 L1424.8,836.5 L1425.5,838.4 L1426.2,840.3 L1426.8,842.2 L1427.4,844.1 L1428.1,846.0 L1428.7,847.9 L1429.4,849.8 L1430.0,851.7 L1430.6,853.5 L1431.3,855.4 L1431.9,857.3 L1432.5,859.2 L1433.1,861.1 L1433.7,863.0 L1434.3,864.9 L1434.9,866.8 L1435.5,868.7 L1436.1,870.6 L1436.7,872.5 L1437.3,874.4 L1437.9,876.3 L1438.5,878.2 L1439.1,880.1 L1439.7,882.0 L1440.3,883.9 L1440.8,885.8 L1441.4,887.7 L1442.0,889.6 L1442.5,891.5 L1443.1,893.5 L1443.6,895.4 L1444.2,897.3 L1444.7,899.2 L1445.3,901.1 L1445.8,903.0 L1446.4,904.9 L1446.9,906.8 L1447.4,908.7 L1448.0,910.6 L1448.5,912.5 L1449.0,914.5 L1449.5,916.4 L1450.1,918.3 L1450.6,920.2 L1451.1,922.1 L1451.6,924.0 L1452.1,925.9 L1452.6,927.9 L1453.1,929.8 L1453.6,931.7 L1454.1,933.6 L1454.6,935.5 L1455.1,937.4 L1455.5,939.4 L1456.0,941.3 L1456.5,943.2 L1457.0,945.1 L1457.4,947.0 L1457.9,948.9 L1458.4,950.9 L1458.8,952.8 L1459.3,954.7 L1459.8,956.6 L1460.2,958.6 L1460.7,960.5 L1461.1,962.4 L1461.6,964.3 L1462.0,966.3 L1462.5,968.2 L1462.9,970.1 L1463.4,972.0 L1463.8,974.0 L1464.2,975.9 L1464.7,977.8 L1465.1,979.7 L1465.5,981.7 L1465.9,983.6 L1466.4,985.5 L1466.8,987.5 L1467.2,989.4 L1467.6,991.3 L1468.0,993.3 L1468.4,995.2 L1468.9,997.1 L1469.3,999.1 L1469.7,1001.0 L1470.1,1002.9 L1470.5,1004.9 L1470.9,1006.8 L1471.3,1008.7 L1471.7,1010.7 L1472.1,1012.6 L1472.5,1014.5 L1472.9,1016.5 L1473.3,1018.4 L1473.6,1020.4 L1474.0,1022.3 L1474.4,1024.2 L1474.8,1026.2 L1475.2,1028.1 L1475.6,1030.1 L1475.9,1032.0 L1476.3,1034.0 L1476.7,1035.9 L1477.1,1037.8 L1477.4,1039.8 L1477.8,1041.7 L1478.2,1043.7 L1478.5,1045.6 L1478.9,1047.6 L1479.3,1049.5 L1479.6,1051.5 L1480.0,1053.4 L1480.4,1055.4 L1480.7,1057.3 L1481.1,1059.3 L1481.4,1061.2 L1481.8,1063.2 L1482.2,1065.1 L1482.5,1067.1 L1482.9,1069.0 L1483.2,1071.0 L1483.6,1073.0 L1483.9,1074.9 L1484.3,1076.9 L1484.6,1078.8 L1485.0,1080.8 L1485.3,1082.8 L1485.7,1084.7 L1486.0,1086.7 L1486.4,1088.6 L1486.7,1090.6 L1487.0,1092.6 L1487.4,1094.5 L1487.7,1096.5 L1488.1,1098.5 L1488.4,1100.4 L1488.8,1102.4 L1489.1,1104.3 L1489.4,1106.3 L1489.8,1108.3 L1490.1,1110.3 L1490.4,1112.2 L1490.8,1114.2 L1491.1,1116.2 L1491.5,1118.1 L1491.8,1120.1 L1492.1,1122.1 L1492.5,1124.1 L1492.8,1126.0 L1493.1,1128.0 L1493.5,1130.0 L1493.8,1132.0 L1494.1,1133.9 L1494.5,1135.9 L1494.8,1137.9 L1495.1,1139.9 L1495.5,1141.8 L1495.8,1143.8 L1496.1,1145.8 L1496.5,1147.8 L1496.8,1149.8 L1497.1,1151.7 L1497.5,1153.7 L1497.8,1155.7 L1498.1,1157.7 L1498.5,1159.7 L1498.8,1161.7 L1499.2,1163.7 L1499.5,1165.7 L1499.8,1167.6 L1500.2,1169.6 L1500.5,1171.6 L1500.8,1173.6 L1501.2,1175.6 L1501.5,1177.6 L1501.8,1179.6 L1502.2,1181.6 L1502.5,1183.6 L1502.9,1185.6 L1503.2,1187.6 L1503.5,1189.6 L1503.9,1191.6 L1504.2,1193.6 L1504.6,1195.6 L1504.9,1197.6 L1505.3,1199.6 L1505.6,1201.6 L1505.9,1203.6 L1506.3,1205.6 L1506.6,1207.6 L1507.0,1209.6 L1507.3,1211.6 L1507.7,1213.6 L1508.0,1215.6 L1508.4,1217.6 L1508.7,1219.6 L1509.1,1221.6 L1509.4,1223.6 L1509.8,1225.6 L1510.2,1227.7 L1510.5,1229.7 L1510.9,1231.7 L1511.2,1233.7 L1511.6,1235.7 L1512.0,1237.7 L1512.4,1239.7 L1512.7,1241.7 L1513.1,1243.7 L1513.5,1245.7 L1513.9,1247.7 L1514.3,1249.8 L1514.7,1251.8 L1515.1,1253.8 L1515.5,1255.8 L1515.9,1257.8 L1516.3,1259.8 L1516.7,1261.7 L1517.1,1263.7 L1517.6,1265.7 L1518.0,1267.7 L1518.4,1269.7 L1518.9,1271.7 L1519.3,1273.7 L1519.8,1275.6 L1520.3,1277.6 L1520.7,1279.6 L1521.2,1281.5 L1521.7,1283.5 L1522.2,1285.5 L1522.7,1287.4 L1523.2,1289.4 L1523.7,1291.3 L1524.3,1293.3 L1524.8,1295.2 L1525.4,1297.1 L1525.9,1299.1 L1526.5,1301.0 L1527.1,1302.9 L1527.6,1304.8 L1528.2,1306.7 L1528.8,1308.6 L1529.4,1310.5 L1530.1,1312.4 L1530.7,1314.3 L1531.4,1316.2 L1532.0,1318.1 L1532.7,1319.9 L1533.4,1321.8 L1534.1,1323.6 L1534.8,1325.5 L1535.5,1327.3 L1536.2,1329.2 L1536.9,1331.0 L1537.7,1332.8 L1538.5,1334.6 L1539.2,1336.4 L1540.0,1338.2 L1540.8,1340.0 L1541.7,1341.8 L1542.5,1343.6 L1543.3,1345.3 L1544.2,1347.1 L1545.1,1348.9 L1546.0,1350.6 L1546.9,1352.3 L1547.8,1354.1 L1548.7,1355.8 L1549.7,1357.5 L1550.7,1359.2 L1551.6,1360.8 L1552.6,1362.5 L1553.7,1364.2 L1554.7,1365.8 L1555.7,1367.5 L1556.8,1369.1 L1557.9,1370.8 L1559.0,1372.4 L1560.1,1374.0 L1561.2,1375.6 L1562.4,1377.2 L1563.6,1378.7 L1564.7,1380.3 L1565.9,1381.8 L1567.1,1383.4 L1568.4,1384.9 L1569.6,1386.4 L1570.9,1387.9 L1572.1,1389.4 L1573.4,1390.8 L1574.7,1392.3 L1576.0,1393.8 L1577.3,1395.2 L1578.7,1396.6 L1580.0,1398.0 L1581.4,1399.4 L1582.8,1400.8 L1584.2,1402.1 L1585.6,1403.5 L1587.0,1404.8 L1588.5,1406.1 L1589.9,1407.4 L1591.4,1408.7 L1592.9,1410.0 L1594.4,1411.2 L1595.9,1412.4 L1597.4,1413.7 L1599.0,1414.9 L1600.5,1416.0 L1602.1,1417.2 L1603.6,1418.4 L1605.2,1419.5 L1606.8,1420.6 L1608.4,1421.7 L1610.0,1422.8 L1611.7,1423.8 L1613.3,1424.9 L1615.0,1425.9 L1616.7,1426.9 L1618.3,1427.9 L1620.0,1428.9 L1621.7,1429.8 L1623.4,1430.7 L1625.2,1431.6 L1626.9,1432.5 L1628.7,1433.4 L1630.4,1434.2 L1632.2,1435.0 L1634.0,1435.8 L1635.8,1436.6 L1637.6,1437.4 L1639.4,1438.1 L1641.2,1438.8 L1643.0,1439.5 L1644.9,1440.2 L1646.7,1440.9 L1648.6,1441.5 L1650.5,1442.2 L1652.3,1442.8 L1654.2,1443.3 L1656.1,1443.9 L1658.0,1444.5 L1659.9,1445.0 L1661.8,1445.5 L1663.8,1446.0 L1665.7,1446.5 L1667.6,1447.0 L1669.6,1447.4 L1671.5,1447.9 L1673.5,1448.3 L1675.4,1448.7 L1677.4,1449.1 L1679.3,1449.5 L1681.3,1449.9 L1683.3,1450.2 L1685.3,1450.6 L1687.2,1450.9 L1689.2,1451.2 L1691.2,1451.5 L1693.2,1451.8 L1695.2,1452.1 L1697.2,1452.4 L1699.2,1452.7 L1701.2,1452.9 L1703.2,1453.1 L1705.2,1453.4 L1707.2,1453.6 L1709.2,1453.8 L1711.2,1454.0 L1713.2,1454.2 L1715.2,1454.4 L1717.3,1454.6 L1719.3,1454.8 L1721.3,1454.9 L1723.3,1455.1 L1725.3,1455.2 L1727.3,1455.4 L1729.3,1455.5 L1731.4,1455.7 L1733.4,1455.8 L1735.4,1455.9 L1737.4,1456.0 L1739.4,1456.1 L1741.5,1456.2 L1743.5,1456.3 L1745.5,1456.4 L1747.5,1456.5 L1749.6,1456.6 L1751.6,1456.6 L1753.6,1456.7 L1755.6,1456.8 L1757.7,1456.8 L1759.7,1456.9 L1761.7,1456.9 L1763.7,1457.0 L1765.8,1457.0 L1767.8,1457.1 L1769.8,1457.1 L1771.8,1457.2 L1773.9,1457.2 L1775.9,1457.3 L1777.9,1457.3 L1780.0,1457.3 L1782.0,1457.4 L1784.0,1457.4 L1786.0,1457.4 L1788.0,1457.5 L1790.1,1457.5 L1792.1,1457.5 L1794.1,1457.5 L1796.1,1457.6 L1798.2,1457.6 L1800.2,1457.6 L1802.2,1457.7 L1804.2,1457.7 L1806.2,1457.7 L1808.2,1457.8 L1810.3,1457.8 L1812.3,1457.9 L1814.3,1457.9 L1816.3,1457.9 L1818.3,1458.0 L1820.3,1458.0 L1822.3,1458.1 L1824.3,1458.1 L1826.3,1458.1 L1828.4,1458.2 L1830.4,1458.2 L1832.4,1458.3 L1834.4,1458.3 L1836.4,1458.4 L1838.4,1458.4 L1840.4,1458.5 L1842.4,1458.5 L1844.4,1458.6 L1846.4,1458.6 L1848.4,1458.7 L1850.4,1458.7 L1852.4,1458.8 L1854.4,1458.8 L1856.4,1458.9 L1858.4,1458.9 L1860.4,1459.0 L1862.4,1459.0 L1864.4,1459.1 L1866.4,1459.1 L1868.4,1459.2 L1870.4,1459.3 L1872.4,1459.3 L1874.4,1459.4 L1876.4,1459.4 L1878.4,1459.5 L1880.4,1459.5 L1882.4,1459.6 L1884.4,1459.7 L1886.3,1459.7 L1888.3,1459.8 L1890.3,1459.8 L1892.3,1459.9 L1894.3,1459.9 L1896.3,1460.0 L1898.3,1460.0 L1900.3,1460.1 L1902.3,1460.2 L1904.3,1460.2 L1906.3,1460.3 L1908.3,1460.3 L1910.2,1460.4 L1912.2,1460.4 L1914.2,1460.5 L1916.2,1460.5 L1918.2,1460.6 L1920.2,1460.7 L1922.2,1460.7 L1924.2,1460.8 L1926.2,1460.8 L1928.1,1460.9 L1930.1,1460.9 L1932.1,1461.0 L1934.1,1461.0 L1936.1,1461.1 L1938.1,1461.1 L1940.1,1461.2 L1942.1,1461.2 L1944.1,1461.3 L1946.0,1461.3 L1948.0,1461.4 L1950.0,1461.4 L1952.0,1461.5 L1954.0,1461.5 L1956.0,1461.6 L1958.0,1461.6 L1960.0,1461.7 L1962.0,1461.7 L1964.0,1461.7 L1965.9,1461.8 L1967.9,1461.8 L1969.9,1461.9 L1971.9,1461.9 L1973.9,1462.0 L1975.9,1462.0 L1977.9,1462.0 L1979.9,1462.1 L1981.9,1462.1 L1983.9,1462.1 L1985.9,1462.2 L1987.8,1462.2 L1989.8,1462.2 L1991.8,1462.3 L1993.8,1462.3 L1995.8,1462.3 L1997.8,1462.3 L1999.8,1462.4 L2001.8,1462.4 L2003.8,1462.4 L2005.8,1462.4 L2007.8,1462.5 L2009.8,1462.5 L2011.8,1462.5 L2013.8,1462.5 L2015.8,1462.5 L2017.8,1462.6 L2019.8,1462.6 L2021.8,1462.6 L2023.8,1462.6 L2025.8,1462.6 L2027.8,1462.6 L2029.8,1462.6 L2031.8,1462.6 L2033.8,1462.6 L2035.8,1462.6 L2037.8,1462.6 L2039.8,1462.6 L2041.8,1462.6 L2043.8,1462.6 L2045.8,1462.6 L2047.8,1462.6 L2049.8,1462.6 L2051.8,1462.6 L2053.9,1462.6 L2055.9,1462.5 L2057.9,1462.5 L2059.9,1462.5 L2061.9,1462.5 L2063.9,1462.5 L2065.9,1462.4 L2067.9,1462.4 L2070.0,1462.4 L2072.0,1462.4 L2074.0,1462.3 L2076.0,1462.3 L2078.0,1462.3 L2080.1,1462.2" stroke="#0000ff" stroke-width="7" fill="none" stroke-linecap="round" stroke-linejoin="round"/>
<line x1="1453.7" y1="865.2" x2="1643.2" y2="826.2" stroke="#000" stroke-width="4.2" stroke-linecap="round"/>
<line x1="1537.3" y1="938.3" x2="1638.8" y2="915" stroke="#000" stroke-width="4.2" stroke-linecap="round"/>
<line x1="1395.9" y1="1061.7" x2="1637.2" y2="1009.6" stroke="#000" stroke-width="4.2" stroke-linecap="round"/>
<line x1="1494" y1="1111.5" x2="1633.2" y2="1082.2" stroke="#000" stroke-width="4.2" stroke-linecap="round"/>
<g font-family='"Liberation Sans", Arial, sans-serif' fill="#000">
<g transform="translate(1036.59,1676.70) scale(0.9748,1)"><text font-size="119.19">T (K)</text></g>
<g transform="translate(301.87,1381.10) scale(0.9680,1)"><text font-size="70.93">B = 0.0<tspan dx="1.56">1</tspan><tspan dx="-1.56"> </tspan>T</text><rect x="233.16" y="-6.41" width="12.99" height="7.45" fill="#fff"/><rect x="252.42" y="-6.41" width="12.43" height="7.45" fill="#fff"/></g>
<g transform="translate(1649.58,849.30) scale(1.1465,1)"><text font-size="71.08">I</text></g>
<g transform="translate(1640.01,939.30) scale(1.0116,1)"><text font-size="71.66">II</text></g>
<g transform="translate(1635.83,1026.00) scale(0.9895,1)"><text font-size="71.95">III</text></g>
<g transform="translate(1638.90,1108.10) scale(0.9603,1)"><text font-size="70.35">VI</text></g>
<text transform="translate(96,988.72) rotate(-90) scale(0.953,1)" font-size="120.5">M (emu/g)</text><g transform="translate(163.49,1494.70) scale(0.96,1)"><text font-size="83">0</text></g>
<g transform="translate(163.49,1140.20) scale(0.96,1)"><text font-size="83"><tspan dx="1.82">1</tspan></text><rect x="7.50" y="-7.50" width="15.20" height="8.71" fill="#fff"/><rect x="30.03" y="-7.50" width="14.55" height="8.71" fill="#fff"/></g>
<g transform="translate(163.49,785.70) scale(0.96,1)"><text font-size="83">2</text></g>
<g transform="translate(163.49,431.20) scale(0.96,1)"><text font-size="83">3</text></g>
<g transform="translate(163.49,76.70) scale(0.96,1)"><text font-size="83">4</text></g>
<g transform="translate(226.84,1559.30) scale(0.96,1)"><text font-size="83">0</text></g>
<g transform="translate(570.89,1559.30) scale(0.96,1)"><text font-size="83">20</text></g>
<g transform="translate(937.09,1559.30) scale(0.96,1)"><text font-size="83">40</text></g>
<g transform="translate(1303.29,1559.30) scale(0.96,1)"><text font-size="83">60</text></g>
<g transform="translate(1669.49,1559.30) scale(0.96,1)"><text font-size="83">80</text></g>
<g transform="translate(2013.53,1559.30) scale(0.96,1)"><text font-size="83"><tspan dx="1.82">1</tspan><tspan dx="-1.82">0</tspan>0</text><rect x="7.50" y="-7.50" width="15.20" height="8.71" fill="#fff"/><rect x="30.03" y="-7.50" width="14.55" height="8.71" fill="#fff"/></g>
</g>
</svg>
</body></html>
